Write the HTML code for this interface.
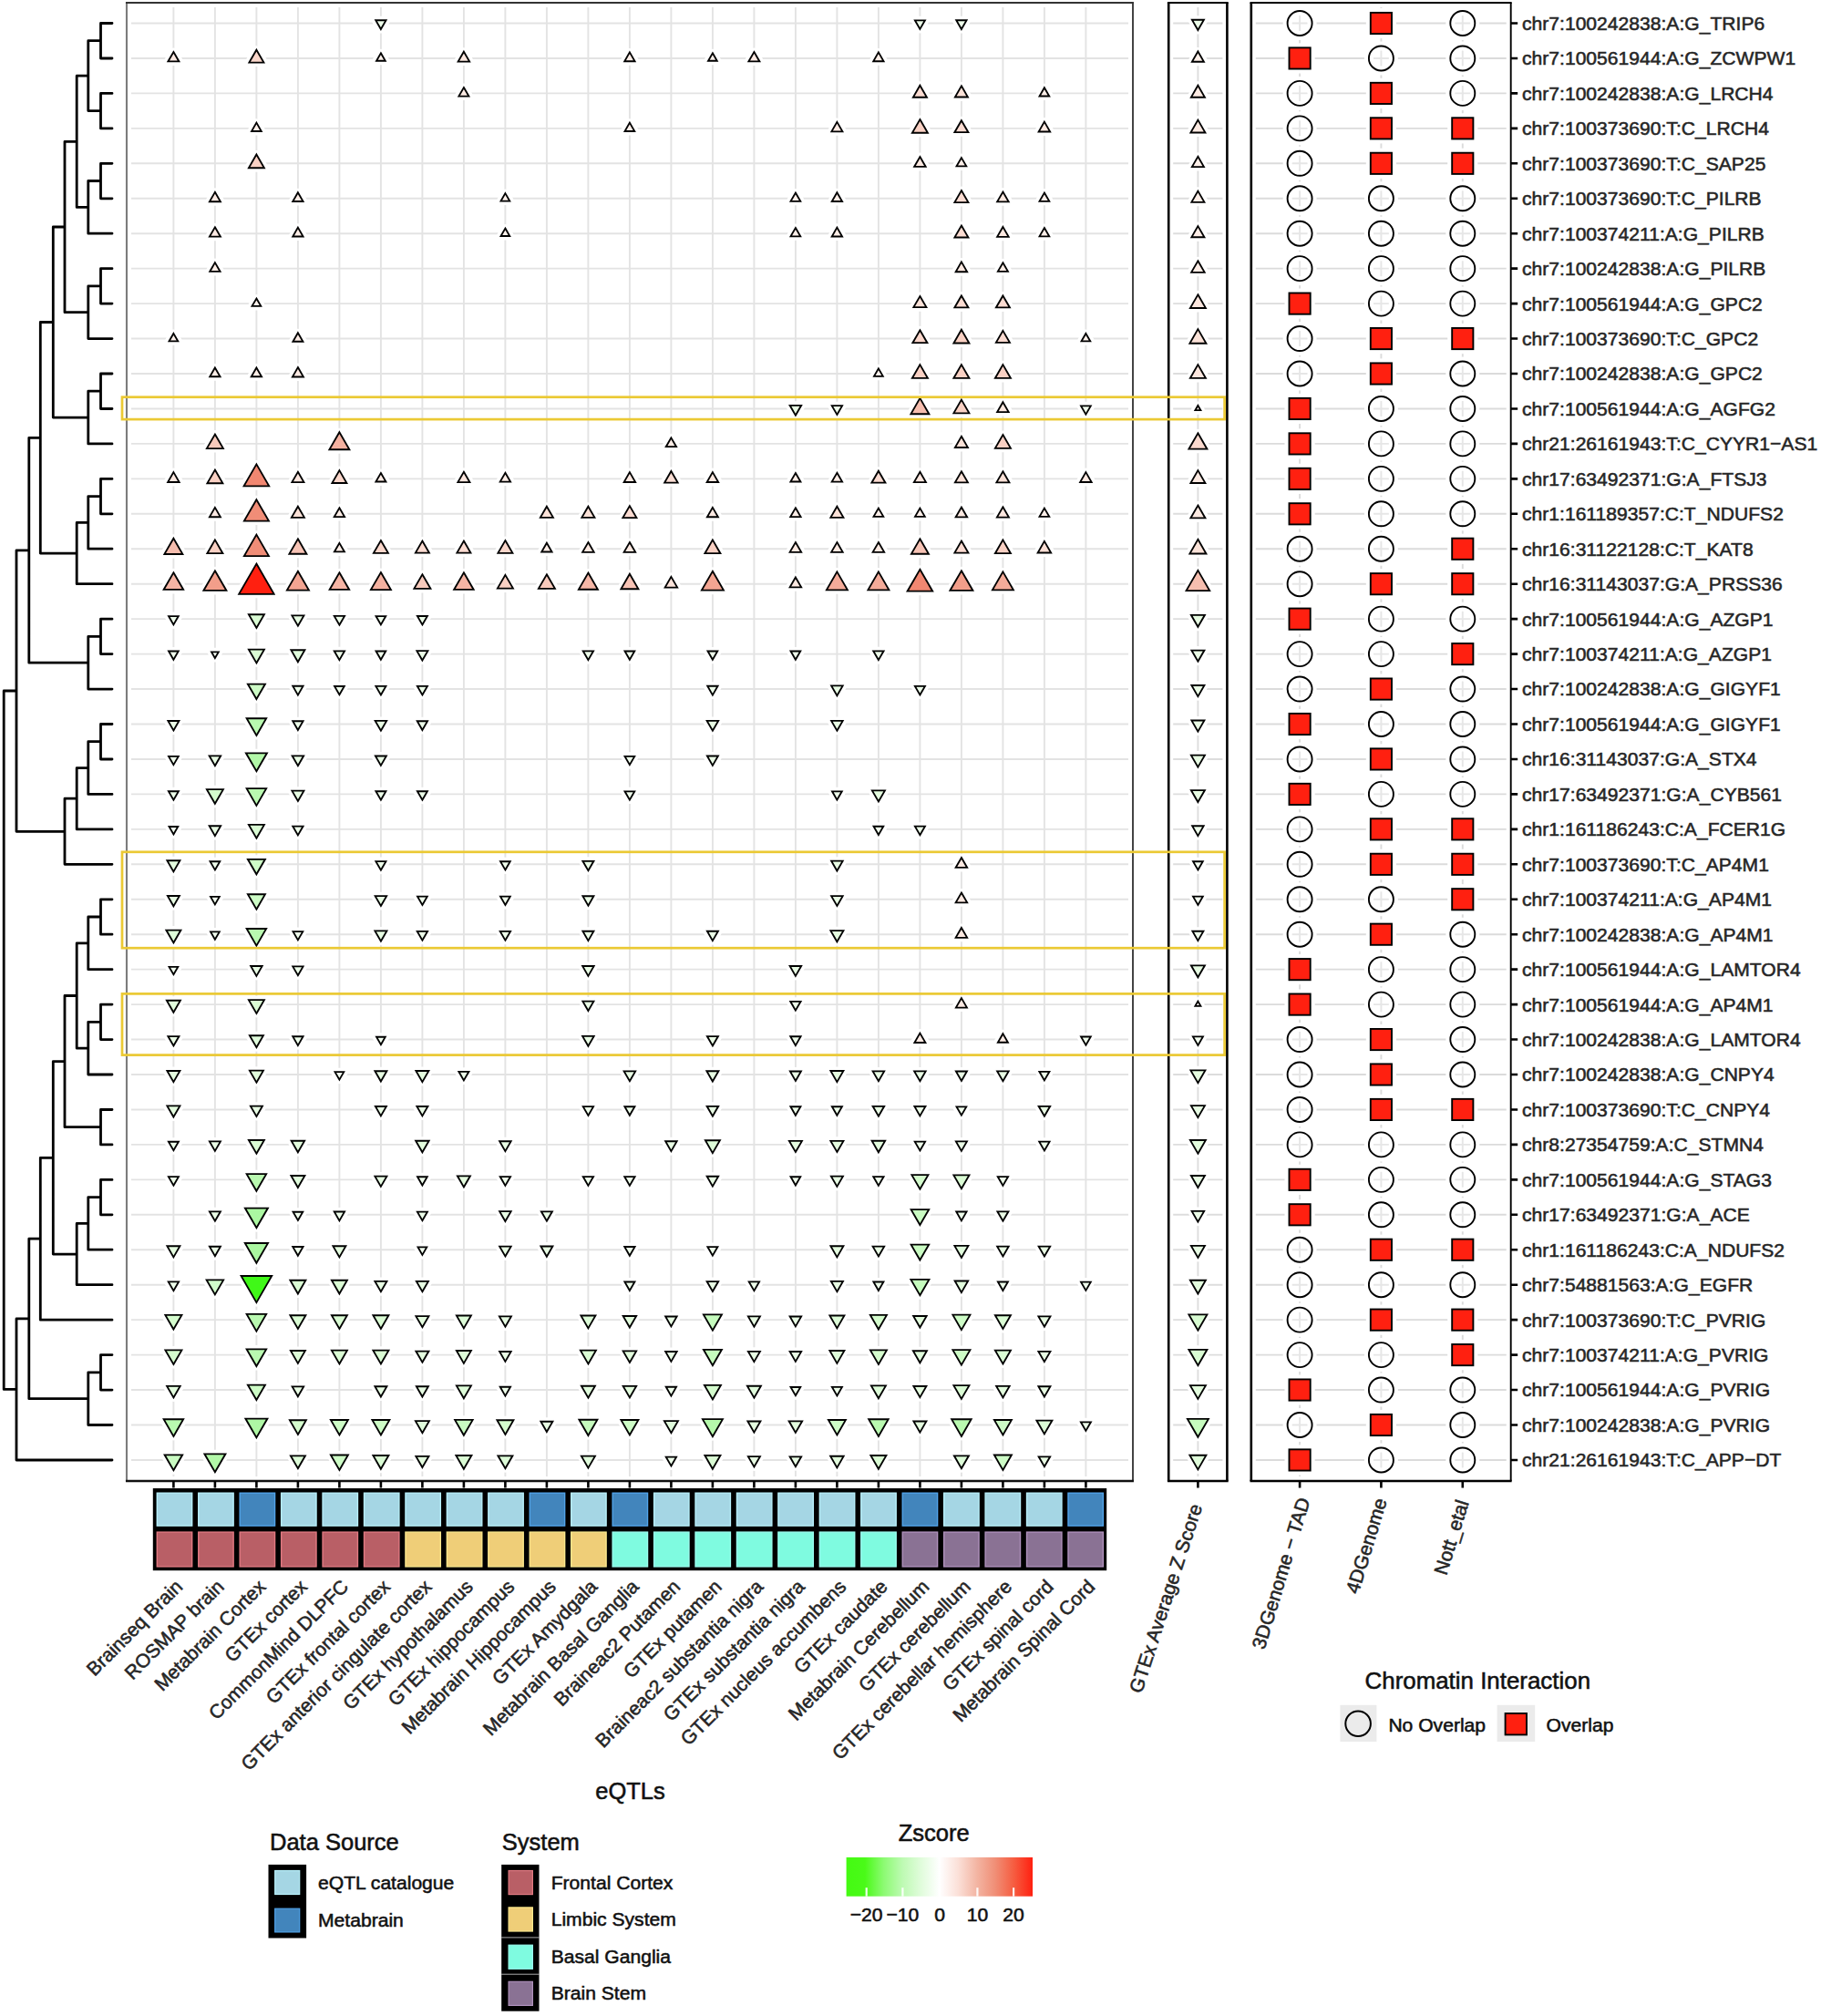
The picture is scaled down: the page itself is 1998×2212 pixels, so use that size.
<!DOCTYPE html>
<html><head><meta charset="utf-8"><title>eQTL heatmap</title>
<style>html,body{margin:0;padding:0;background:#fff}svg{display:block}</style></head>
<body>
<svg width="1998" height="2212" viewBox="0 0 1998 2212" font-family="'Liberation Sans', Arial, sans-serif">
<rect width="1998" height="2212" fill="#fff"/>
<path d="M18.0 758.0H4.2V1524.4H18.0M31.8 603.8H18.0V912.3H71.0M44.3 480.3H31.8V727.2H96.8M58.3 353.5H44.3V607.1H84.2M71.0 249.0H58.3V458.1H96.8M84.2 155.3H71.0V342.7H96.8M96.8 83.2H84.2V227.4H96.8M110.5 44.7H96.8V121.6H110.5M123.0 25.5H110.5V64.0H123.0M123.0 102.4H110.5V140.9H123.0M110.5 198.5H96.8V256.2H123.0M123.0 179.3H110.5V217.8H123.0M110.5 313.9H96.8V371.6H123.0M123.0 294.7H110.5V333.1H123.0M110.5 429.2H96.8V486.9H123.0M123.0 410.0H110.5V448.5H123.0M96.8 573.4H84.2V640.7H123.0M110.5 544.6H96.8V602.2H123.0M123.0 525.4H110.5V563.8H123.0M110.5 698.4H96.8V756.1H123.0M123.0 679.2H110.5V717.6H123.0M84.2 876.2H71.0V948.3H123.0M96.8 842.6H84.2V909.9H123.0M110.5 813.7H96.8V871.4H123.0M123.0 794.5H110.5V833.0H123.0M31.8 1446.9H18.0V1602.0H123.0M44.3 1359.2H31.8V1534.7H96.8M58.3 1270.3H44.3V1448.2H123.0M71.0 1164.6H58.3V1376.1H84.2M84.2 1092.5H71.0V1236.7H110.5M96.8 1034.8H84.2V1150.2H96.8M110.5 1006.0H96.8V1063.7H123.0M123.0 986.8H110.5V1025.2H123.0M110.5 1121.3H96.8V1179.0H123.0M123.0 1102.1H110.5V1140.6H123.0M123.0 1217.5H110.5V1255.9H123.0M96.8 1342.4H84.2V1409.7H123.0M110.5 1313.6H96.8V1371.2H123.0M123.0 1294.4H110.5V1332.8H123.0M110.5 1505.8H96.8V1563.5H123.0M123.0 1486.6H110.5V1525.1H123.0" fill="none" stroke="#000" stroke-width="2.8" stroke-linejoin="round" stroke-linecap="round"/>
<rect x="139.0" y="3.0" width="1104.0" height="1622.0" fill="#fff"/>
<path d="M144.0 25.50H1238.0M144.0 63.95H1238.0M144.0 102.40H1238.0M144.0 140.85H1238.0M144.0 179.30H1238.0M144.0 217.75H1238.0M144.0 256.20H1238.0M144.0 294.65H1238.0M144.0 333.10H1238.0M144.0 371.55H1238.0M144.0 410.00H1238.0M144.0 448.45H1238.0M144.0 486.90H1238.0M144.0 525.35H1238.0M144.0 563.80H1238.0M144.0 602.25H1238.0M144.0 640.70H1238.0M144.0 679.15H1238.0M144.0 717.60H1238.0M144.0 756.05H1238.0M144.0 794.50H1238.0M144.0 832.95H1238.0M144.0 871.40H1238.0M144.0 909.85H1238.0M144.0 948.30H1238.0M144.0 986.75H1238.0M144.0 1025.20H1238.0M144.0 1063.65H1238.0M144.0 1102.10H1238.0M144.0 1140.55H1238.0M144.0 1179.00H1238.0M144.0 1217.45H1238.0M144.0 1255.90H1238.0M144.0 1294.35H1238.0M144.0 1332.80H1238.0M144.0 1371.25H1238.0M144.0 1409.70H1238.0M144.0 1448.15H1238.0M144.0 1486.60H1238.0M144.0 1525.05H1238.0M144.0 1563.50H1238.0M144.0 1601.95H1238.0M190.40 8.0V1620.0M235.90 8.0V1620.0M281.40 8.0V1620.0M326.90 8.0V1620.0M372.40 8.0V1620.0M417.90 8.0V1620.0M463.40 8.0V1620.0M508.90 8.0V1620.0M554.40 8.0V1620.0M599.90 8.0V1620.0M645.40 8.0V1620.0M690.90 8.0V1620.0M736.40 8.0V1620.0M781.90 8.0V1620.0M827.40 8.0V1620.0M872.90 8.0V1620.0M918.40 8.0V1620.0M963.90 8.0V1620.0M1009.40 8.0V1620.0M1054.90 8.0V1620.0M1100.40 8.0V1620.0M1145.90 8.0V1620.0M1191.40 8.0V1620.0" stroke="#e3e3e3" stroke-width="1.9" fill="none"/>
<rect x="1282.2" y="3.0" width="64.20000000000005" height="1622.0" fill="#fff"/>
<path d="M1287.2 25.50H1341.4M1287.2 63.95H1341.4M1287.2 102.40H1341.4M1287.2 140.85H1341.4M1287.2 179.30H1341.4M1287.2 217.75H1341.4M1287.2 256.20H1341.4M1287.2 294.65H1341.4M1287.2 333.10H1341.4M1287.2 371.55H1341.4M1287.2 410.00H1341.4M1287.2 448.45H1341.4M1287.2 486.90H1341.4M1287.2 525.35H1341.4M1287.2 563.80H1341.4M1287.2 602.25H1341.4M1287.2 640.70H1341.4M1287.2 679.15H1341.4M1287.2 717.60H1341.4M1287.2 756.05H1341.4M1287.2 794.50H1341.4M1287.2 832.95H1341.4M1287.2 871.40H1341.4M1287.2 909.85H1341.4M1287.2 948.30H1341.4M1287.2 986.75H1341.4M1287.2 1025.20H1341.4M1287.2 1063.65H1341.4M1287.2 1102.10H1341.4M1287.2 1140.55H1341.4M1287.2 1179.00H1341.4M1287.2 1217.45H1341.4M1287.2 1255.90H1341.4M1287.2 1294.35H1341.4M1287.2 1332.80H1341.4M1287.2 1371.25H1341.4M1287.2 1409.70H1341.4M1287.2 1448.15H1341.4M1287.2 1486.60H1341.4M1287.2 1525.05H1341.4M1287.2 1563.50H1341.4M1287.2 1601.95H1341.4M1314.40 8.0V1620.0" stroke="#dddddd" stroke-width="1.9" fill="none"/>
<rect x="1372.8" y="3.0" width="284.9000000000001" height="1622.0" fill="#fff"/>
<path d="M1377.8 25.50H1652.7M1377.8 63.95H1652.7M1377.8 102.40H1652.7M1377.8 140.85H1652.7M1377.8 179.30H1652.7M1377.8 217.75H1652.7M1377.8 256.20H1652.7M1377.8 294.65H1652.7M1377.8 333.10H1652.7M1377.8 371.55H1652.7M1377.8 410.00H1652.7M1377.8 448.45H1652.7M1377.8 486.90H1652.7M1377.8 525.35H1652.7M1377.8 563.80H1652.7M1377.8 602.25H1652.7M1377.8 640.70H1652.7M1377.8 679.15H1652.7M1377.8 717.60H1652.7M1377.8 756.05H1652.7M1377.8 794.50H1652.7M1377.8 832.95H1652.7M1377.8 871.40H1652.7M1377.8 909.85H1652.7M1377.8 948.30H1652.7M1377.8 986.75H1652.7M1377.8 1025.20H1652.7M1377.8 1063.65H1652.7M1377.8 1102.10H1652.7M1377.8 1140.55H1652.7M1377.8 1179.00H1652.7M1377.8 1217.45H1652.7M1377.8 1255.90H1652.7M1377.8 1294.35H1652.7M1377.8 1332.80H1652.7M1377.8 1371.25H1652.7M1377.8 1409.70H1652.7M1377.8 1448.15H1652.7M1377.8 1486.60H1652.7M1377.8 1525.05H1652.7M1377.8 1563.50H1652.7M1377.8 1601.95H1652.7M1426.10 8.0V1620.0M1515.40 8.0V1620.0M1604.80 8.0V1620.0" stroke="#dbdbdb" stroke-width="1.9" fill="none"/>
<g fill="#fff" stroke="#fff" stroke-width="9" stroke-linejoin="round"><polygon points="417.90,32.05 423.57,22.23 412.23,22.23"/><polygon points="1009.40,31.87 1014.92,22.31 1003.88,22.31"/><polygon points="1054.90,32.05 1060.57,22.23 1049.23,22.23"/><polygon points="1314.40,33.03 1320.92,21.74 1307.88,21.74"/><polygon points="190.40,57.00 196.42,67.43 184.38,67.43"/><polygon points="281.40,54.69 289.42,68.58 273.38,68.58"/><polygon points="417.90,58.33 422.77,66.76 413.03,66.76"/><polygon points="508.90,56.71 515.17,67.57 502.63,67.57"/><polygon points="690.90,57.40 696.57,67.22 685.23,67.22"/><polygon points="781.90,58.33 786.77,66.76 777.03,66.76"/><polygon points="827.40,57.00 833.42,67.43 821.38,67.43"/><polygon points="963.90,57.40 969.57,67.22 958.23,67.22"/><polygon points="1314.40,56.42 1320.92,67.71 1307.88,67.71"/><polygon points="508.90,96.03 514.42,105.59 503.38,105.59"/><polygon points="1009.40,93.72 1016.92,106.74 1001.88,106.74"/><polygon points="1054.90,94.29 1061.92,106.45 1047.88,106.45"/><polygon points="1145.90,96.20 1151.27,105.50 1140.53,105.50"/><polygon points="1314.40,93.72 1321.92,106.74 1306.88,106.74"/><polygon points="281.40,134.65 286.77,143.95 276.03,143.95"/><polygon points="690.90,134.65 696.27,143.95 685.53,143.95"/><polygon points="918.40,133.90 924.42,144.33 912.38,144.33"/><polygon points="1009.40,131.01 1017.92,145.77 1000.88,145.77"/><polygon points="1054.90,132.17 1062.42,145.19 1047.38,145.19"/><polygon points="1145.90,133.61 1152.17,144.47 1139.63,144.47"/><polygon points="1314.40,131.59 1322.42,145.48 1306.38,145.48"/><polygon points="281.40,169.46 289.92,184.22 272.88,184.22"/><polygon points="1009.40,172.06 1015.67,182.92 1003.13,182.92"/><polygon points="1054.90,173.10 1060.27,182.40 1049.53,182.40"/><polygon points="1314.40,171.77 1320.92,183.06 1307.88,183.06"/><polygon points="235.90,210.80 241.92,221.23 229.88,221.23"/><polygon points="326.90,211.20 332.57,221.02 321.23,221.02"/><polygon points="554.40,212.13 559.27,220.56 549.53,220.56"/><polygon points="872.90,211.55 878.27,220.85 867.53,220.85"/><polygon points="918.40,211.20 924.07,221.02 912.73,221.02"/><polygon points="1054.90,209.07 1062.42,222.09 1047.38,222.09"/><polygon points="1100.40,210.51 1106.67,221.37 1094.13,221.37"/><polygon points="1145.90,211.55 1151.27,220.85 1140.53,220.85"/><polygon points="1314.40,209.64 1321.42,221.80 1307.38,221.80"/><polygon points="235.90,249.25 241.92,259.68 229.88,259.68"/><polygon points="326.90,249.65 332.57,259.47 321.23,259.47"/><polygon points="554.40,250.58 559.27,259.01 549.53,259.01"/><polygon points="872.90,250.00 878.27,259.30 867.53,259.30"/><polygon points="918.40,249.65 924.07,259.47 912.73,259.47"/><polygon points="1054.90,247.52 1062.42,260.54 1047.38,260.54"/><polygon points="1100.40,248.96 1106.67,259.82 1094.13,259.82"/><polygon points="1145.90,250.00 1151.27,259.30 1140.53,259.30"/><polygon points="1314.40,248.09 1321.42,260.25 1307.38,260.25"/><polygon points="235.90,288.10 241.57,297.92 230.23,297.92"/><polygon points="1054.90,287.41 1061.17,298.27 1048.63,298.27"/><polygon points="1100.40,288.28 1105.92,297.84 1094.88,297.84"/><polygon points="1314.40,286.26 1321.67,298.85 1307.13,298.85"/><polygon points="281.40,327.48 286.27,335.91 276.53,335.91"/><polygon points="1009.40,324.99 1016.42,337.15 1002.38,337.15"/><polygon points="1054.90,324.42 1062.42,337.44 1047.38,337.44"/><polygon points="1100.40,324.42 1107.92,337.44 1092.88,337.44"/><polygon points="1314.40,323.26 1322.92,338.02 1305.88,338.02"/><polygon points="190.40,365.93 195.27,374.36 185.53,374.36"/><polygon points="326.90,365.18 332.42,374.74 321.38,374.74"/><polygon points="1009.40,362.29 1017.42,376.18 1001.38,376.18"/><polygon points="1054.90,361.71 1063.42,376.47 1046.38,376.47"/><polygon points="1100.40,362.87 1107.92,375.89 1092.88,375.89"/><polygon points="1191.40,365.93 1196.27,374.36 1186.53,374.36"/><polygon points="1314.40,361.13 1323.42,376.76 1305.38,376.76"/><polygon points="235.90,403.45 241.57,413.27 230.23,413.27"/><polygon points="281.40,403.45 287.07,413.27 275.73,413.27"/><polygon points="326.90,403.05 332.92,413.48 320.88,413.48"/><polygon points="963.90,404.38 968.77,412.81 959.03,412.81"/><polygon points="1009.40,400.16 1017.92,414.92 1000.88,414.92"/><polygon points="1054.90,400.16 1063.42,414.92 1046.38,414.92"/><polygon points="1100.40,400.16 1108.92,414.92 1091.88,414.92"/><polygon points="1314.40,400.16 1322.92,414.92 1305.88,414.92"/><polygon points="872.90,455.69 879.17,444.83 866.63,444.83"/><polygon points="918.40,455.00 924.07,445.18 912.73,445.18"/><polygon points="1009.40,436.88 1019.42,454.24 999.38,454.24"/><polygon points="1054.90,438.61 1063.42,453.37 1046.38,453.37"/><polygon points="1100.40,441.21 1106.67,452.07 1094.13,452.07"/><polygon points="1191.40,454.65 1196.77,445.35 1186.03,445.35"/><polygon points="1314.40,444.96 1317.42,450.19 1311.38,450.19"/><polygon points="235.90,476.48 244.92,492.11 226.88,492.11"/><polygon points="372.40,474.18 383.42,493.26 361.38,493.26"/><polygon points="736.40,480.35 742.07,490.17 730.73,490.17"/><polygon points="1054.90,478.79 1061.92,490.95 1047.88,490.95"/><polygon points="1100.40,477.06 1108.92,491.82 1091.88,491.82"/><polygon points="1314.40,475.33 1324.42,492.69 1304.38,492.69"/><polygon points="190.40,518.11 196.67,528.97 184.13,528.97"/><polygon points="235.90,515.51 244.42,530.27 227.38,530.27"/><polygon points="281.40,509.39 295.22,533.33 267.58,533.33"/><polygon points="326.90,517.82 333.42,529.11 320.38,529.11"/><polygon points="372.40,516.09 380.42,529.98 364.38,529.98"/><polygon points="417.90,518.98 423.42,528.54 412.38,528.54"/><polygon points="508.90,517.82 515.42,529.11 502.38,529.11"/><polygon points="554.40,518.80 560.07,528.62 548.73,528.62"/><polygon points="690.90,518.11 697.17,528.97 684.63,528.97"/><polygon points="736.40,516.96 743.67,529.55 729.13,529.55"/><polygon points="781.90,518.11 788.17,528.97 775.63,528.97"/><polygon points="872.90,518.98 878.42,528.54 867.38,528.54"/><polygon points="918.40,518.80 924.07,528.62 912.73,528.62"/><polygon points="963.90,516.67 971.42,529.69 956.38,529.69"/><polygon points="1009.40,517.82 1015.92,529.11 1002.88,529.11"/><polygon points="1054.90,517.24 1061.92,529.40 1047.88,529.40"/><polygon points="1100.40,517.24 1107.42,529.40 1093.38,529.40"/><polygon points="1191.40,518.11 1197.67,528.97 1185.13,528.97"/><polygon points="1314.40,516.09 1322.42,529.98 1306.38,529.98"/><polygon points="235.90,556.85 241.92,567.28 229.88,567.28"/><polygon points="281.40,548.19 294.92,571.61 267.88,571.61"/><polygon points="326.90,555.69 333.92,567.85 319.88,567.85"/><polygon points="372.40,557.25 378.07,567.07 366.73,567.07"/><polygon points="599.90,555.69 606.92,567.85 592.88,567.85"/><polygon points="645.40,555.69 652.42,567.85 638.38,567.85"/><polygon points="690.90,555.12 698.42,568.14 683.38,568.14"/><polygon points="781.90,556.85 787.92,567.28 775.88,567.28"/><polygon points="872.90,557.25 878.57,567.07 867.23,567.07"/><polygon points="918.40,555.69 925.42,567.85 911.38,567.85"/><polygon points="963.90,557.60 969.27,566.90 958.53,566.90"/><polygon points="1009.40,557.60 1014.77,566.90 1004.03,566.90"/><polygon points="1054.90,556.56 1061.17,567.42 1048.63,567.42"/><polygon points="1100.40,556.27 1106.92,567.56 1093.88,567.56"/><polygon points="1145.90,557.60 1151.27,566.90 1140.53,566.90"/><polygon points="1314.40,554.54 1322.42,568.43 1306.38,568.43"/><polygon points="190.40,590.68 200.42,608.04 180.38,608.04"/><polygon points="235.90,592.41 244.42,607.17 227.38,607.17"/><polygon points="281.40,586.64 294.92,610.06 267.88,610.06"/><polygon points="326.90,591.26 336.42,607.75 317.38,607.75"/><polygon points="372.40,595.88 377.92,605.44 366.88,605.44"/><polygon points="417.90,592.99 425.92,606.88 409.88,606.88"/><polygon points="463.40,593.57 470.92,606.59 455.88,606.59"/><polygon points="508.90,593.57 516.42,606.59 501.38,606.59"/><polygon points="554.40,592.99 562.42,606.88 546.38,606.88"/><polygon points="599.90,595.70 605.57,605.52 594.23,605.52"/><polygon points="645.40,595.01 651.67,605.87 639.13,605.87"/><polygon points="690.90,595.01 697.17,605.87 684.63,605.87"/><polygon points="781.90,592.41 790.42,607.17 773.38,607.17"/><polygon points="872.90,595.01 879.17,605.87 866.63,605.87"/><polygon points="918.40,595.01 924.67,605.87 912.13,605.87"/><polygon points="963.90,595.01 970.17,605.87 957.63,605.87"/><polygon points="1009.40,591.26 1018.92,607.75 999.88,607.75"/><polygon points="1054.90,593.57 1062.42,606.59 1047.38,606.59"/><polygon points="1100.40,592.41 1108.92,607.17 1091.88,607.17"/><polygon points="1145.90,593.86 1153.17,606.45 1138.63,606.45"/><polygon points="1314.40,591.83 1323.42,607.46 1305.38,607.46"/><polygon points="190.40,628.26 201.17,646.92 179.63,646.92"/><polygon points="235.90,626.24 248.42,647.93 223.38,647.93"/><polygon points="281.40,618.51 300.62,651.80 262.18,651.80"/><polygon points="326.90,626.82 338.92,647.64 314.88,647.64"/><polygon points="372.40,628.26 383.17,646.92 361.63,646.92"/><polygon points="417.90,627.98 428.92,647.06 406.88,647.06"/><polygon points="463.40,630.28 472.42,645.91 454.38,645.91"/><polygon points="508.90,628.26 519.67,646.92 498.13,646.92"/><polygon points="554.40,630.86 562.92,645.62 545.88,645.62"/><polygon points="599.90,630.28 608.92,645.91 590.88,645.91"/><polygon points="645.40,628.55 655.92,646.77 634.88,646.77"/><polygon points="690.90,629.71 700.42,646.20 681.38,646.20"/><polygon points="736.40,632.88 743.17,644.61 729.63,644.61"/><polygon points="781.90,626.82 793.92,647.64 769.88,647.64"/><polygon points="872.90,633.46 879.17,644.32 866.63,644.32"/><polygon points="918.40,627.40 929.92,647.35 906.88,647.35"/><polygon points="963.90,627.40 975.42,647.35 952.38,647.35"/><polygon points="1009.40,624.74 1023.22,648.68 995.58,648.68"/><polygon points="1054.90,626.24 1067.42,647.93 1042.38,647.93"/><polygon points="1100.40,627.40 1111.92,647.35 1088.88,647.35"/><polygon points="1314.40,625.90 1327.22,648.10 1301.58,648.10"/><polygon points="190.40,685.35 195.77,676.05 185.03,676.05"/><polygon points="281.40,688.99 289.92,674.23 272.88,674.23"/><polygon points="326.90,686.68 333.42,675.39 320.38,675.39"/><polygon points="372.40,685.70 378.07,675.88 366.73,675.88"/><polygon points="417.90,685.35 423.27,676.05 412.53,676.05"/><polygon points="463.40,685.52 468.92,675.96 457.88,675.96"/><polygon points="1314.40,687.83 1321.92,674.81 1306.88,674.81"/><polygon points="190.40,723.80 195.77,714.50 185.03,714.50"/><polygon points="235.90,722.07 239.77,715.37 232.03,715.37"/><polygon points="281.40,727.44 289.92,712.68 272.88,712.68"/><polygon points="326.90,726.28 334.42,713.26 319.38,713.26"/><polygon points="372.40,724.15 378.07,714.33 366.73,714.33"/><polygon points="417.90,723.80 423.27,714.50 412.53,714.50"/><polygon points="463.40,724.55 469.42,714.12 457.38,714.12"/><polygon points="645.40,724.15 651.07,714.33 639.73,714.33"/><polygon points="690.90,723.80 696.27,714.50 685.53,714.50"/><polygon points="781.90,723.80 787.27,714.50 776.53,714.50"/><polygon points="872.90,723.80 878.27,714.50 867.53,714.50"/><polygon points="963.90,724.15 969.57,714.33 958.23,714.33"/><polygon points="1314.40,725.71 1321.42,713.55 1307.38,713.55"/><polygon points="281.40,767.04 290.92,750.55 271.88,750.55"/><polygon points="326.90,762.60 332.57,752.78 321.23,752.78"/><polygon points="372.40,762.25 377.77,752.95 367.03,752.95"/><polygon points="417.90,762.42 423.42,752.86 412.38,752.86"/><polygon points="463.40,762.42 468.92,752.86 457.88,752.86"/><polygon points="781.90,762.60 787.57,752.78 776.23,752.78"/><polygon points="918.40,763.29 924.67,752.43 912.13,752.43"/><polygon points="1009.40,762.42 1014.92,752.86 1003.88,752.86"/><polygon points="1314.40,764.16 1321.42,752.00 1307.38,752.00"/><polygon points="190.40,801.45 196.42,791.02 184.38,791.02"/><polygon points="281.40,806.94 292.17,788.28 270.63,788.28"/><polygon points="326.90,801.05 332.57,791.23 321.23,791.23"/><polygon points="417.90,801.74 424.17,790.88 411.63,790.88"/><polygon points="463.40,801.05 469.07,791.23 457.73,791.23"/><polygon points="781.90,801.74 788.17,790.88 775.63,790.88"/><polygon points="918.40,801.74 924.67,790.88 912.13,790.88"/><polygon points="1314.40,802.61 1321.42,790.45 1307.38,790.45"/><polygon points="190.40,839.15 195.77,829.85 185.03,829.85"/><polygon points="235.90,840.19 242.17,829.33 229.63,829.33"/><polygon points="281.40,846.25 292.92,826.30 269.88,826.30"/><polygon points="326.90,840.19 333.17,829.33 320.63,829.33"/><polygon points="417.90,839.90 423.92,829.47 411.88,829.47"/><polygon points="690.90,839.15 696.27,829.85 685.53,829.85"/><polygon points="781.90,839.90 787.92,829.47 775.88,829.47"/><polygon points="1314.40,841.63 1321.92,828.61 1306.88,828.61"/><polygon points="190.40,877.77 195.92,868.21 184.88,868.21"/><polygon points="235.90,881.82 244.92,866.19 226.88,866.19"/><polygon points="281.40,883.84 292.17,865.18 270.63,865.18"/><polygon points="326.90,878.93 333.42,867.64 320.38,867.64"/><polygon points="417.90,877.77 423.42,868.21 412.38,868.21"/><polygon points="463.40,877.77 468.92,868.21 457.88,868.21"/><polygon points="690.90,877.60 696.27,868.30 685.53,868.30"/><polygon points="918.40,877.60 923.77,868.30 913.03,868.30"/><polygon points="963.90,879.51 970.92,867.35 956.88,867.35"/><polygon points="1314.40,880.08 1321.92,867.06 1306.88,867.06"/><polygon points="190.40,915.47 195.27,907.04 185.53,907.04"/><polygon points="235.90,917.09 242.17,906.23 229.63,906.23"/><polygon points="281.40,919.69 289.92,904.93 272.88,904.93"/><polygon points="326.90,916.40 332.57,906.58 321.23,906.58"/><polygon points="963.90,916.05 969.27,906.75 958.53,906.75"/><polygon points="1009.40,916.22 1014.92,906.66 1003.88,906.66"/><polygon points="1314.40,917.09 1320.67,906.23 1308.13,906.23"/><polygon points="190.40,956.41 197.42,944.25 183.38,944.25"/><polygon points="235.90,954.50 241.27,945.20 230.53,945.20"/><polygon points="281.40,959.29 290.92,942.80 271.88,942.80"/><polygon points="417.90,954.67 423.42,945.11 412.38,945.11"/><polygon points="554.40,954.50 559.77,945.20 549.03,945.20"/><polygon points="645.40,955.25 651.42,944.82 639.38,944.82"/><polygon points="918.40,955.54 924.67,944.68 912.13,944.68"/><polygon points="1054.90,941.06 1061.17,951.92 1048.63,951.92"/><polygon points="1314.40,954.50 1319.77,945.20 1309.03,945.20"/><polygon points="190.40,994.28 196.92,982.99 183.88,982.99"/><polygon points="235.90,992.37 240.77,983.94 231.03,983.94"/><polygon points="281.40,997.74 290.92,981.25 271.88,981.25"/><polygon points="417.90,993.99 424.17,983.13 411.63,983.13"/><polygon points="463.40,992.95 468.77,983.65 458.03,983.65"/><polygon points="554.40,992.95 559.77,983.65 549.03,983.65"/><polygon points="645.40,993.70 651.42,983.27 639.38,983.27"/><polygon points="918.40,993.99 924.67,983.13 912.13,983.13"/><polygon points="1054.90,979.51 1061.17,990.37 1048.63,990.37"/><polygon points="1314.40,992.95 1319.77,983.65 1309.03,983.65"/><polygon points="190.40,1034.46 198.42,1020.57 182.38,1020.57"/><polygon points="235.90,1030.82 240.77,1022.39 231.03,1022.39"/><polygon points="281.40,1037.64 292.17,1018.98 270.63,1018.98"/><polygon points="326.90,1031.40 332.27,1022.10 321.53,1022.10"/><polygon points="417.90,1032.73 424.42,1021.44 411.38,1021.44"/><polygon points="463.40,1031.75 469.07,1021.93 457.73,1021.93"/><polygon points="554.40,1031.75 560.07,1021.93 548.73,1021.93"/><polygon points="645.40,1032.15 651.42,1021.72 639.38,1021.72"/><polygon points="781.90,1032.15 787.92,1021.72 775.88,1021.72"/><polygon points="918.40,1033.31 925.42,1021.15 911.38,1021.15"/><polygon points="1054.90,1017.96 1061.17,1028.82 1048.63,1028.82"/><polygon points="1314.40,1032.15 1320.42,1021.72 1308.38,1021.72"/><polygon points="190.40,1069.27 195.27,1060.84 185.53,1060.84"/><polygon points="281.40,1070.89 287.67,1060.03 275.13,1060.03"/><polygon points="326.90,1070.20 332.57,1060.38 321.23,1060.38"/><polygon points="645.40,1070.89 651.67,1060.03 639.13,1060.03"/><polygon points="872.90,1070.89 879.17,1060.03 866.63,1060.03"/><polygon points="1314.40,1072.33 1321.92,1059.31 1306.88,1059.31"/><polygon points="190.40,1110.78 197.92,1097.76 182.88,1097.76"/><polygon points="281.40,1111.94 289.92,1097.18 272.88,1097.18"/><polygon points="645.40,1109.05 651.42,1098.62 639.38,1098.62"/><polygon points="872.90,1108.65 878.57,1098.83 867.23,1098.83"/><polygon points="1054.90,1095.15 1060.92,1105.58 1048.88,1105.58"/><polygon points="1314.40,1098.61 1317.42,1103.84 1311.38,1103.84"/><polygon points="190.40,1147.50 196.42,1137.07 184.38,1137.07"/><polygon points="281.40,1149.23 288.92,1136.21 273.88,1136.21"/><polygon points="326.90,1147.10 332.57,1137.28 321.23,1137.28"/><polygon points="417.90,1146.17 422.77,1137.74 413.03,1137.74"/><polygon points="645.40,1147.79 651.67,1136.93 639.13,1136.93"/><polygon points="781.90,1147.50 787.92,1137.07 775.88,1137.07"/><polygon points="872.90,1147.10 878.57,1137.28 867.23,1137.28"/><polygon points="1009.40,1133.60 1015.42,1144.03 1003.38,1144.03"/><polygon points="1100.40,1134.18 1105.92,1143.74 1094.88,1143.74"/><polygon points="1191.40,1146.75 1196.77,1137.45 1186.03,1137.45"/><polygon points="1314.40,1146.92 1319.92,1137.36 1308.88,1137.36"/><polygon points="190.40,1187.11 197.42,1174.95 183.38,1174.95"/><polygon points="281.40,1187.68 288.92,1174.66 273.88,1174.66"/><polygon points="372.40,1184.62 377.27,1176.19 367.53,1176.19"/><polygon points="417.90,1186.53 424.42,1175.24 411.38,1175.24"/><polygon points="463.40,1187.11 470.42,1174.95 456.38,1174.95"/><polygon points="508.90,1185.37 514.42,1175.81 503.38,1175.81"/><polygon points="690.90,1186.24 697.17,1175.38 684.63,1175.38"/><polygon points="781.90,1186.53 788.42,1175.24 775.38,1175.24"/><polygon points="872.90,1185.95 878.92,1175.52 866.88,1175.52"/><polygon points="918.40,1187.11 925.42,1174.95 911.38,1174.95"/><polygon points="963.90,1186.24 970.17,1175.38 957.63,1175.38"/><polygon points="1009.40,1186.24 1015.67,1175.38 1003.13,1175.38"/><polygon points="1054.90,1185.95 1060.92,1175.52 1048.88,1175.52"/><polygon points="1100.40,1186.24 1106.67,1175.38 1094.13,1175.38"/><polygon points="1145.90,1185.37 1151.42,1175.81 1140.38,1175.81"/><polygon points="1314.40,1188.26 1322.42,1174.37 1306.38,1174.37"/><polygon points="190.40,1225.56 197.42,1213.40 183.38,1213.40"/><polygon points="281.40,1224.98 287.92,1213.69 274.88,1213.69"/><polygon points="417.90,1224.40 423.92,1213.97 411.88,1213.97"/><polygon points="463.40,1224.40 469.42,1213.97 457.38,1213.97"/><polygon points="645.40,1224.00 651.07,1214.18 639.73,1214.18"/><polygon points="690.90,1223.82 696.42,1214.26 685.38,1214.26"/><polygon points="781.90,1224.69 788.17,1213.83 775.63,1213.83"/><polygon points="872.90,1223.82 878.42,1214.26 867.38,1214.26"/><polygon points="918.40,1223.82 923.92,1214.26 912.88,1214.26"/><polygon points="963.90,1224.69 970.17,1213.83 957.63,1213.83"/><polygon points="1009.40,1224.40 1015.42,1213.97 1003.38,1213.97"/><polygon points="1054.90,1223.65 1060.27,1214.35 1049.53,1214.35"/><polygon points="1145.90,1224.69 1152.17,1213.83 1139.63,1213.83"/><polygon points="1314.40,1226.13 1321.92,1213.11 1306.88,1213.11"/><polygon points="190.40,1262.27 195.92,1252.71 184.88,1252.71"/><polygon points="235.90,1262.85 241.92,1252.42 229.88,1252.42"/><polygon points="281.40,1265.74 289.92,1250.98 272.88,1250.98"/><polygon points="326.90,1264.29 334.17,1251.70 319.63,1251.70"/><polygon points="463.40,1264.29 470.67,1251.70 456.13,1251.70"/><polygon points="554.40,1263.14 560.67,1252.28 548.13,1252.28"/><polygon points="736.40,1263.14 742.67,1252.28 730.13,1252.28"/><polygon points="781.90,1265.16 789.92,1251.27 773.88,1251.27"/><polygon points="872.90,1264.01 879.92,1251.85 865.88,1251.85"/><polygon points="918.40,1264.01 925.42,1251.85 911.38,1251.85"/><polygon points="963.90,1264.29 971.17,1251.70 956.63,1251.70"/><polygon points="1009.40,1262.45 1015.07,1252.63 1003.73,1252.63"/><polygon points="1054.90,1262.85 1060.92,1252.42 1048.88,1252.42"/><polygon points="1145.90,1262.45 1151.57,1252.63 1140.23,1252.63"/><polygon points="1314.40,1265.74 1322.92,1250.98 1305.88,1250.98"/><polygon points="190.40,1300.72 195.92,1291.16 184.88,1291.16"/><polygon points="281.40,1306.79 292.17,1288.13 270.63,1288.13"/><polygon points="326.90,1303.03 334.42,1290.01 319.38,1290.01"/><polygon points="417.90,1301.88 424.42,1290.59 411.38,1290.59"/><polygon points="463.40,1300.55 468.77,1291.25 458.03,1291.25"/><polygon points="508.90,1302.46 515.92,1290.30 501.88,1290.30"/><polygon points="554.40,1300.90 560.07,1291.08 548.73,1291.08"/><polygon points="645.40,1300.90 651.07,1291.08 639.73,1291.08"/><polygon points="690.90,1300.90 696.57,1291.08 685.23,1291.08"/><polygon points="781.90,1301.59 788.17,1290.73 775.63,1290.73"/><polygon points="872.90,1300.55 878.27,1291.25 867.53,1291.25"/><polygon points="918.40,1301.88 924.92,1290.59 911.88,1290.59"/><polygon points="963.90,1300.90 969.57,1291.08 958.23,1291.08"/><polygon points="1009.40,1304.77 1018.42,1289.14 1000.38,1289.14"/><polygon points="1054.90,1304.19 1063.42,1289.43 1046.38,1289.43"/><polygon points="1100.40,1300.90 1106.07,1291.08 1094.73,1291.08"/><polygon points="1314.40,1303.03 1321.92,1290.01 1306.88,1290.01"/><polygon points="235.90,1339.75 241.92,1329.32 229.88,1329.32"/><polygon points="281.40,1347.26 293.92,1325.57 268.88,1325.57"/><polygon points="326.90,1339.00 332.27,1329.70 321.53,1329.70"/><polygon points="372.40,1339.35 378.07,1329.53 366.73,1329.53"/><polygon points="463.40,1339.17 468.92,1329.61 457.88,1329.61"/><polygon points="554.40,1340.04 560.67,1329.18 548.13,1329.18"/><polygon points="599.90,1339.75 605.92,1329.32 593.88,1329.32"/><polygon points="1009.40,1344.08 1019.17,1327.16 999.63,1327.16"/><polygon points="1054.90,1339.35 1060.57,1329.53 1049.23,1329.53"/><polygon points="1100.40,1339.75 1106.42,1329.32 1094.38,1329.32"/><polygon points="1314.40,1340.62 1321.17,1328.89 1307.63,1328.89"/><polygon points="190.40,1379.36 197.42,1367.20 183.38,1367.20"/><polygon points="235.90,1378.20 241.92,1367.77 229.88,1367.77"/><polygon points="281.40,1385.82 294.02,1363.96 268.78,1363.96"/><polygon points="326.90,1377.80 332.57,1367.98 321.23,1367.98"/><polygon points="372.40,1379.36 379.42,1367.20 365.38,1367.20"/><polygon points="463.40,1376.87 468.27,1368.44 458.53,1368.44"/><polygon points="554.40,1378.49 560.67,1367.63 548.13,1367.63"/><polygon points="599.90,1378.78 606.42,1367.49 593.38,1367.49"/><polygon points="690.90,1377.80 696.57,1367.98 685.23,1367.98"/><polygon points="781.90,1377.62 787.42,1368.06 776.38,1368.06"/><polygon points="918.40,1379.36 925.42,1367.20 911.38,1367.20"/><polygon points="963.90,1378.49 970.17,1367.63 957.63,1367.63"/><polygon points="1009.40,1382.53 1019.17,1365.61 999.63,1365.61"/><polygon points="1054.90,1379.93 1062.42,1366.91 1047.38,1366.91"/><polygon points="1100.40,1378.49 1106.67,1367.63 1094.13,1367.63"/><polygon points="1145.90,1378.49 1152.17,1367.63 1139.63,1367.63"/><polygon points="1314.40,1379.93 1321.92,1366.91 1306.88,1366.91"/><polygon points="190.40,1416.25 196.07,1406.43 184.73,1406.43"/><polygon points="235.90,1420.40 245.17,1404.35 226.63,1404.35"/><polygon points="281.40,1429.12 298.22,1399.99 264.58,1399.99"/><polygon points="326.90,1419.54 335.42,1404.78 318.38,1404.78"/><polygon points="372.40,1419.54 380.92,1404.78 363.88,1404.78"/><polygon points="417.90,1417.23 424.42,1405.94 411.38,1405.94"/><polygon points="463.40,1417.23 469.92,1405.94 456.88,1405.94"/><polygon points="690.90,1416.07 696.42,1406.51 685.38,1406.51"/><polygon points="781.90,1416.94 788.17,1406.08 775.63,1406.08"/><polygon points="827.40,1416.25 833.07,1406.43 821.73,1406.43"/><polygon points="918.40,1417.23 924.92,1405.94 911.88,1405.94"/><polygon points="963.90,1416.07 969.42,1406.51 958.38,1406.51"/><polygon points="1009.40,1421.27 1019.42,1403.91 999.38,1403.91"/><polygon points="1054.90,1418.09 1062.17,1405.50 1047.63,1405.50"/><polygon points="1100.40,1416.07 1105.92,1406.51 1094.88,1406.51"/><polygon points="1191.40,1415.90 1196.77,1406.60 1186.03,1406.60"/><polygon points="1314.40,1419.54 1322.92,1404.78 1305.88,1404.78"/><polygon points="190.40,1458.57 199.42,1442.94 181.38,1442.94"/><polygon points="281.40,1460.59 292.17,1441.93 270.63,1441.93"/><polygon points="326.90,1457.99 335.42,1443.23 318.38,1443.23"/><polygon points="372.40,1457.99 380.92,1443.23 363.88,1443.23"/><polygon points="417.90,1457.99 426.42,1443.23 409.38,1443.23"/><polygon points="463.40,1456.26 470.42,1444.10 456.38,1444.10"/><polygon points="508.90,1457.41 516.92,1443.52 500.88,1443.52"/><polygon points="554.40,1455.68 560.92,1444.39 547.88,1444.39"/><polygon points="645.40,1457.41 653.42,1443.52 637.38,1443.52"/><polygon points="690.90,1456.54 698.17,1443.95 683.63,1443.95"/><polygon points="736.40,1455.39 742.67,1444.53 730.13,1444.53"/><polygon points="781.90,1459.72 791.92,1442.36 771.88,1442.36"/><polygon points="827.40,1455.68 833.92,1444.39 820.88,1444.39"/><polygon points="872.90,1455.39 879.17,1444.53 866.63,1444.53"/><polygon points="918.40,1457.41 926.42,1443.52 910.38,1443.52"/><polygon points="963.90,1458.57 972.92,1442.94 954.88,1442.94"/><polygon points="1009.40,1456.54 1016.67,1443.95 1002.13,1443.95"/><polygon points="1054.90,1459.14 1064.42,1442.65 1045.38,1442.65"/><polygon points="1100.40,1457.99 1108.92,1443.23 1091.88,1443.23"/><polygon points="1145.90,1455.68 1152.42,1444.39 1139.38,1444.39"/><polygon points="1314.40,1459.72 1324.42,1442.36 1304.38,1442.36"/><polygon points="190.40,1497.02 199.42,1481.39 181.38,1481.39"/><polygon points="281.40,1499.04 292.17,1480.38 270.63,1480.38"/><polygon points="326.90,1495.86 334.92,1481.97 318.88,1481.97"/><polygon points="372.40,1496.44 380.92,1481.68 363.88,1481.68"/><polygon points="417.90,1496.44 426.42,1481.68 409.38,1481.68"/><polygon points="463.40,1494.71 470.42,1482.55 456.38,1482.55"/><polygon points="508.90,1495.86 516.92,1481.97 500.88,1481.97"/><polygon points="554.40,1493.84 560.67,1482.98 548.13,1482.98"/><polygon points="645.40,1496.44 653.92,1481.68 636.88,1481.68"/><polygon points="690.90,1494.99 698.17,1482.40 683.63,1482.40"/><polygon points="736.40,1493.84 742.67,1482.98 730.13,1482.98"/><polygon points="781.90,1498.17 791.92,1480.81 771.88,1480.81"/><polygon points="827.40,1494.13 833.92,1482.84 820.88,1482.84"/><polygon points="872.90,1493.84 879.17,1482.98 866.63,1482.98"/><polygon points="918.40,1495.86 926.42,1481.97 910.38,1481.97"/><polygon points="963.90,1497.02 972.92,1481.39 954.88,1481.39"/><polygon points="1009.40,1495.28 1016.92,1482.26 1001.88,1482.26"/><polygon points="1054.90,1497.59 1064.42,1481.10 1045.38,1481.10"/><polygon points="1100.40,1496.44 1108.92,1481.68 1091.88,1481.68"/><polygon points="1145.90,1494.13 1152.42,1482.84 1139.38,1482.84"/><polygon points="1314.40,1498.17 1324.42,1480.81 1304.38,1480.81"/><polygon points="190.40,1533.44 197.67,1520.85 183.13,1520.85"/><polygon points="281.40,1536.04 290.92,1519.55 271.88,1519.55"/><polygon points="326.90,1532.29 333.17,1521.43 320.63,1521.43"/><polygon points="417.90,1532.58 424.42,1521.29 411.38,1521.29"/><polygon points="463.40,1532.58 469.92,1521.29 456.88,1521.29"/><polygon points="508.90,1534.31 516.92,1520.42 500.88,1520.42"/><polygon points="554.40,1531.60 560.07,1521.78 548.73,1521.78"/><polygon points="645.40,1533.73 652.92,1520.71 637.88,1520.71"/><polygon points="690.90,1533.44 698.17,1520.85 683.63,1520.85"/><polygon points="736.40,1531.60 742.07,1521.78 730.73,1521.78"/><polygon points="781.90,1535.47 790.92,1519.84 772.88,1519.84"/><polygon points="827.40,1533.73 834.92,1520.71 819.88,1520.71"/><polygon points="872.90,1531.25 878.27,1521.95 867.53,1521.95"/><polygon points="918.40,1531.42 923.92,1521.86 912.88,1521.86"/><polygon points="963.90,1534.31 971.92,1520.42 955.88,1520.42"/><polygon points="1009.40,1533.16 1016.42,1521.00 1002.38,1521.00"/><polygon points="1054.90,1534.89 1063.42,1520.13 1046.38,1520.13"/><polygon points="1100.40,1533.44 1107.67,1520.85 1093.13,1520.85"/><polygon points="1145.90,1532.58 1152.42,1521.29 1139.38,1521.29"/><polygon points="1314.40,1534.89 1322.92,1520.13 1305.88,1520.13"/><polygon points="190.40,1575.94 201.17,1557.28 179.63,1557.28"/><polygon points="281.40,1577.38 293.42,1556.56 269.38,1556.56"/><polygon points="326.90,1573.92 335.92,1558.29 317.88,1558.29"/><polygon points="372.40,1574.49 381.92,1558.00 362.88,1558.00"/><polygon points="417.90,1574.49 427.42,1558.00 408.38,1558.00"/><polygon points="463.40,1572.18 470.92,1559.16 455.88,1559.16"/><polygon points="508.90,1574.78 518.67,1557.86 499.13,1557.86"/><polygon points="554.40,1573.92 563.42,1558.29 545.38,1558.29"/><polygon points="599.90,1571.03 606.42,1559.74 593.38,1559.74"/><polygon points="645.40,1575.07 655.42,1557.71 635.38,1557.71"/><polygon points="690.90,1574.49 700.42,1558.00 681.38,1558.00"/><polygon points="736.40,1572.18 743.92,1559.16 728.88,1559.16"/><polygon points="781.90,1576.22 792.92,1557.14 770.88,1557.14"/><polygon points="827.40,1571.61 834.42,1559.45 820.38,1559.45"/><polygon points="872.90,1571.89 880.17,1559.30 865.63,1559.30"/><polygon points="918.40,1574.49 927.92,1558.00 908.88,1558.00"/><polygon points="963.90,1575.94 974.67,1557.28 953.13,1557.28"/><polygon points="1009.40,1571.61 1016.42,1559.45 1002.38,1559.45"/><polygon points="1054.90,1575.94 1065.67,1557.28 1044.13,1557.28"/><polygon points="1100.40,1574.49 1109.92,1558.00 1090.88,1558.00"/><polygon points="1145.90,1573.34 1154.42,1558.58 1137.38,1558.58"/><polygon points="1191.40,1569.87 1196.92,1560.31 1185.88,1560.31"/><polygon points="1314.40,1576.80 1325.92,1556.85 1302.88,1556.85"/><polygon points="190.40,1613.23 200.17,1596.31 180.63,1596.31"/><polygon points="235.90,1615.25 247.42,1595.30 224.38,1595.30"/><polygon points="326.90,1611.21 334.92,1597.32 318.88,1597.32"/><polygon points="372.40,1612.94 381.92,1596.45 362.88,1596.45"/><polygon points="417.90,1611.79 426.42,1597.03 409.38,1597.03"/><polygon points="463.40,1610.06 470.42,1597.90 456.38,1597.90"/><polygon points="508.90,1611.79 517.42,1597.03 500.38,1597.03"/><polygon points="554.40,1611.21 562.42,1597.32 546.38,1597.32"/><polygon points="645.40,1610.63 652.92,1597.61 637.88,1597.61"/><polygon points="736.40,1608.50 742.07,1598.68 730.73,1598.68"/><polygon points="781.90,1611.79 790.42,1597.03 773.38,1597.03"/><polygon points="827.40,1609.48 833.92,1598.19 820.88,1598.19"/><polygon points="872.90,1609.19 879.17,1598.33 866.63,1598.33"/><polygon points="918.40,1610.34 925.67,1597.75 911.13,1597.75"/><polygon points="963.90,1611.79 972.42,1597.03 955.38,1597.03"/><polygon points="1054.90,1611.21 1062.92,1597.32 1046.88,1597.32"/><polygon points="1100.40,1612.94 1109.92,1596.45 1090.88,1596.45"/><polygon points="1145.90,1609.19 1152.17,1598.33 1139.63,1598.33"/><polygon points="1314.40,1612.37 1323.42,1596.74 1305.38,1596.74"/></g>
<g stroke="#000" stroke-width="1.85" stroke-linejoin="miter"><polygon points="417.90,32.05 423.57,22.23 412.23,22.23" fill="#edfdea"/><polygon points="1009.40,31.87 1014.92,22.31 1003.88,22.31" fill="#ecfde9"/><polygon points="1054.90,32.05 1060.57,22.23 1049.23,22.23" fill="#edfdea"/><polygon points="1314.40,33.03 1320.92,21.74 1307.88,21.74" fill="#ecfde9"/><polygon points="190.40,57.00 196.42,67.43 184.38,67.43" fill="#fce9e2"/><polygon points="281.40,54.69 289.42,68.58 273.38,68.58" fill="#fad6ca"/><polygon points="417.90,58.33 422.77,66.76 413.03,66.76" fill="#fdf1eb"/><polygon points="508.90,56.71 515.17,67.57 502.63,67.57" fill="#fce8e0"/><polygon points="690.90,57.40 696.57,67.22 685.23,67.22" fill="#fdede6"/><polygon points="781.90,58.33 786.77,66.76 777.03,66.76" fill="#fdf1eb"/><polygon points="827.40,57.00 833.42,67.43 821.38,67.43" fill="#fce9e2"/><polygon points="963.90,57.40 969.57,67.22 958.23,67.22" fill="#fdede6"/><polygon points="1314.40,56.42 1320.92,67.71 1307.88,67.71" fill="#fdefe8"/><polygon points="508.90,96.03 514.42,105.59 503.38,105.59" fill="#fdece5"/><polygon points="1009.40,93.72 1016.92,106.74 1001.88,106.74" fill="#fbdbd1"/><polygon points="1054.90,94.29 1061.92,106.45 1047.88,106.45" fill="#fbe1d7"/><polygon points="1145.90,96.20 1151.27,105.50 1140.53,105.50" fill="#fdeee8"/><polygon points="1314.40,93.72 1321.92,106.74 1306.88,106.74" fill="#fdebe3"/><polygon points="281.40,134.65 286.77,143.95 276.03,143.95" fill="#fdeee8"/><polygon points="690.90,134.65 696.27,143.95 685.53,143.95" fill="#fdeee8"/><polygon points="918.40,133.90 924.42,144.33 912.38,144.33" fill="#fce9e2"/><polygon points="1009.40,131.01 1017.92,145.77 1000.88,145.77" fill="#f9d0c3"/><polygon points="1054.90,132.17 1062.42,145.19 1047.38,145.19" fill="#fbdbd1"/><polygon points="1145.90,133.61 1152.17,144.47 1139.63,144.47" fill="#fce8e0"/><polygon points="1314.40,131.59 1322.42,145.48 1306.38,145.48" fill="#fce9e1"/><polygon points="281.40,169.46 289.92,184.22 272.88,184.22" fill="#f9d0c3"/><polygon points="1009.40,172.06 1015.67,182.92 1003.13,182.92" fill="#fce8e0"/><polygon points="1054.90,173.10 1060.27,182.40 1049.53,182.40" fill="#fdeee8"/><polygon points="1314.40,171.77 1320.92,183.06 1307.88,183.06" fill="#fdefe8"/><polygon points="235.90,210.80 241.92,221.23 229.88,221.23" fill="#fce9e2"/><polygon points="326.90,211.20 332.57,221.02 321.23,221.02" fill="#fdede6"/><polygon points="554.40,212.13 559.27,220.56 549.53,220.56" fill="#fdf1eb"/><polygon points="872.90,211.55 878.27,220.85 867.53,220.85" fill="#fdeee8"/><polygon points="918.40,211.20 924.07,221.02 912.73,221.02" fill="#fdede6"/><polygon points="1054.90,209.07 1062.42,222.09 1047.38,222.09" fill="#fbdbd1"/><polygon points="1100.40,210.51 1106.67,221.37 1094.13,221.37" fill="#fce8e0"/><polygon points="1145.90,211.55 1151.27,220.85 1140.53,220.85" fill="#fdeee8"/><polygon points="1314.40,209.64 1321.42,221.80 1307.38,221.80" fill="#fdede6"/><polygon points="235.90,249.25 241.92,259.68 229.88,259.68" fill="#fce9e2"/><polygon points="326.90,249.65 332.57,259.47 321.23,259.47" fill="#fdede6"/><polygon points="554.40,250.58 559.27,259.01 549.53,259.01" fill="#fdf1eb"/><polygon points="872.90,250.00 878.27,259.30 867.53,259.30" fill="#fdeee8"/><polygon points="918.40,249.65 924.07,259.47 912.73,259.47" fill="#fdede6"/><polygon points="1054.90,247.52 1062.42,260.54 1047.38,260.54" fill="#fbdbd1"/><polygon points="1100.40,248.96 1106.67,259.82 1094.13,259.82" fill="#fce8e0"/><polygon points="1145.90,250.00 1151.27,259.30 1140.53,259.30" fill="#fdeee8"/><polygon points="1314.40,248.09 1321.42,260.25 1307.38,260.25" fill="#fdede6"/><polygon points="235.90,288.10 241.57,297.92 230.23,297.92" fill="#fdede6"/><polygon points="1054.90,287.41 1061.17,298.27 1048.63,298.27" fill="#fce8e0"/><polygon points="1100.40,288.28 1105.92,297.84 1094.88,297.84" fill="#fdece5"/><polygon points="1314.40,286.26 1321.67,298.85 1307.13,298.85" fill="#fdece5"/><polygon points="281.40,327.48 286.27,335.91 276.53,335.91" fill="#fdf1eb"/><polygon points="1009.40,324.99 1016.42,337.15 1002.38,337.15" fill="#fbe1d7"/><polygon points="1054.90,324.42 1062.42,337.44 1047.38,337.44" fill="#fbdbd1"/><polygon points="1100.40,324.42 1107.92,337.44 1092.88,337.44" fill="#fbdbd1"/><polygon points="1314.40,323.26 1322.92,338.02 1305.88,338.02" fill="#fce6de"/><polygon points="190.40,365.93 195.27,374.36 185.53,374.36" fill="#fdf1eb"/><polygon points="326.90,365.18 332.42,374.74 321.38,374.74" fill="#fdece5"/><polygon points="1009.40,362.29 1017.42,376.18 1001.38,376.18" fill="#fad6ca"/><polygon points="1054.90,361.71 1063.42,376.47 1046.38,376.47" fill="#f9d0c3"/><polygon points="1100.40,362.87 1107.92,375.89 1092.88,375.89" fill="#fbdbd1"/><polygon points="1191.40,365.93 1196.27,374.36 1186.53,374.36" fill="#fdf1eb"/><polygon points="1314.40,361.13 1323.42,376.76 1305.38,376.76" fill="#fbe2d8"/><polygon points="235.90,403.45 241.57,413.27 230.23,413.27" fill="#fdede6"/><polygon points="281.40,403.45 287.07,413.27 275.73,413.27" fill="#fdede6"/><polygon points="326.90,403.05 332.92,413.48 320.88,413.48" fill="#fce9e2"/><polygon points="963.90,404.38 968.77,412.81 959.03,412.81" fill="#fdf1eb"/><polygon points="1009.40,400.16 1017.92,414.92 1000.88,414.92" fill="#f9d0c3"/><polygon points="1054.90,400.16 1063.42,414.92 1046.38,414.92" fill="#f9d0c3"/><polygon points="1100.40,400.16 1108.92,414.92 1091.88,414.92" fill="#f9d0c3"/><polygon points="1314.40,400.16 1322.92,414.92 1305.88,414.92" fill="#fce6de"/><polygon points="872.90,455.69 879.17,444.83 866.63,444.83" fill="#e8fce4"/><polygon points="918.40,455.00 924.07,445.18 912.73,445.18" fill="#edfdea"/><polygon points="1009.40,436.88 1019.42,454.24 999.38,454.24" fill="#f6bdae"/><polygon points="1054.90,438.61 1063.42,453.37 1046.38,453.37" fill="#f9d0c3"/><polygon points="1100.40,441.21 1106.67,452.07 1094.13,452.07" fill="#fce8e0"/><polygon points="1191.40,454.65 1196.77,445.35 1186.03,445.35" fill="#effdec"/><polygon points="1314.40,444.96 1317.42,450.19 1311.38,450.19" fill="#fef5f1"/><polygon points="235.90,476.48 244.92,492.11 226.88,492.11" fill="#f8cabc"/><polygon points="372.40,474.18 383.42,493.26 361.38,493.26" fill="#f4b1a0"/><polygon points="736.40,480.35 742.07,490.17 730.73,490.17" fill="#fdede6"/><polygon points="1054.90,478.79 1061.92,490.95 1047.88,490.95" fill="#fbe1d7"/><polygon points="1100.40,477.06 1108.92,491.82 1091.88,491.82" fill="#f9d0c3"/><polygon points="1314.40,475.33 1324.42,492.69 1304.38,492.69" fill="#fad9ce"/><polygon points="190.40,518.11 196.67,528.97 184.13,528.97" fill="#fce8e0"/><polygon points="235.90,515.51 244.42,530.27 227.38,530.27" fill="#f9d0c3"/><polygon points="281.40,509.39 295.22,533.33 267.58,533.33" fill="#f18771"/><polygon points="326.90,517.82 333.42,529.11 320.38,529.11" fill="#fce6de"/><polygon points="372.40,516.09 380.42,529.98 364.38,529.98" fill="#fad6ca"/><polygon points="417.90,518.98 423.42,528.54 412.38,528.54" fill="#fdece5"/><polygon points="508.90,517.82 515.42,529.11 502.38,529.11" fill="#fce6de"/><polygon points="554.40,518.80 560.07,528.62 548.73,528.62" fill="#fdede6"/><polygon points="690.90,518.11 697.17,528.97 684.63,528.97" fill="#fce8e0"/><polygon points="736.40,516.96 743.67,529.55 729.13,529.55" fill="#fbded4"/><polygon points="781.90,518.11 788.17,528.97 775.63,528.97" fill="#fce8e0"/><polygon points="872.90,518.98 878.42,528.54 867.38,528.54" fill="#fdece5"/><polygon points="918.40,518.80 924.07,528.62 912.73,528.62" fill="#fdede6"/><polygon points="963.90,516.67 971.42,529.69 956.38,529.69" fill="#fbdbd1"/><polygon points="1009.40,517.82 1015.92,529.11 1002.88,529.11" fill="#fce6de"/><polygon points="1054.90,517.24 1061.92,529.40 1047.88,529.40" fill="#fbe1d7"/><polygon points="1100.40,517.24 1107.42,529.40 1093.38,529.40" fill="#fbe1d7"/><polygon points="1191.40,518.11 1197.67,528.97 1185.13,528.97" fill="#fce8e0"/><polygon points="1314.40,516.09 1322.42,529.98 1306.38,529.98" fill="#fce9e1"/><polygon points="235.90,556.85 241.92,567.28 229.88,567.28" fill="#fce9e2"/><polygon points="281.40,548.19 294.92,571.61 267.88,571.61" fill="#f08d77"/><polygon points="326.90,555.69 333.92,567.85 319.88,567.85" fill="#fbe1d7"/><polygon points="372.40,557.25 378.07,567.07 366.73,567.07" fill="#fdede6"/><polygon points="599.90,555.69 606.92,567.85 592.88,567.85" fill="#fbe1d7"/><polygon points="645.40,555.69 652.42,567.85 638.38,567.85" fill="#fbe1d7"/><polygon points="690.90,555.12 698.42,568.14 683.38,568.14" fill="#fbdbd1"/><polygon points="781.90,556.85 787.92,567.28 775.88,567.28" fill="#fce9e2"/><polygon points="872.90,557.25 878.57,567.07 867.23,567.07" fill="#fdede6"/><polygon points="918.40,555.69 925.42,567.85 911.38,567.85" fill="#fbe1d7"/><polygon points="963.90,557.60 969.27,566.90 958.53,566.90" fill="#fdeee8"/><polygon points="1009.40,557.60 1014.77,566.90 1004.03,566.90" fill="#fdeee8"/><polygon points="1054.90,556.56 1061.17,567.42 1048.63,567.42" fill="#fce8e0"/><polygon points="1100.40,556.27 1106.92,567.56 1093.88,567.56" fill="#fce6de"/><polygon points="1145.90,557.60 1151.27,566.90 1140.53,566.90" fill="#fdeee8"/><polygon points="1314.40,554.54 1322.42,568.43 1306.38,568.43" fill="#fce9e1"/><polygon points="190.40,590.68 200.42,608.04 180.38,608.04" fill="#f6bdae"/><polygon points="235.90,592.41 244.42,607.17 227.38,607.17" fill="#f9d0c3"/><polygon points="281.40,586.64 294.92,610.06 267.88,610.06" fill="#f08d77"/><polygon points="326.90,591.26 336.42,607.75 317.38,607.75" fill="#f7c3b5"/><polygon points="372.40,595.88 377.92,605.44 366.88,605.44" fill="#fdece5"/><polygon points="417.90,592.99 425.92,606.88 409.88,606.88" fill="#fad6ca"/><polygon points="463.40,593.57 470.92,606.59 455.88,606.59" fill="#fbdbd1"/><polygon points="508.90,593.57 516.42,606.59 501.38,606.59" fill="#fbdbd1"/><polygon points="554.40,592.99 562.42,606.88 546.38,606.88" fill="#fad6ca"/><polygon points="599.90,595.70 605.57,605.52 594.23,605.52" fill="#fdede6"/><polygon points="645.40,595.01 651.67,605.87 639.13,605.87" fill="#fce8e0"/><polygon points="690.90,595.01 697.17,605.87 684.63,605.87" fill="#fce8e0"/><polygon points="781.90,592.41 790.42,607.17 773.38,607.17" fill="#f9d0c3"/><polygon points="872.90,595.01 879.17,605.87 866.63,605.87" fill="#fce8e0"/><polygon points="918.40,595.01 924.67,605.87 912.13,605.87" fill="#fce8e0"/><polygon points="963.90,595.01 970.17,605.87 957.63,605.87" fill="#fce8e0"/><polygon points="1009.40,591.26 1018.92,607.75 999.88,607.75" fill="#f7c3b5"/><polygon points="1054.90,593.57 1062.42,606.59 1047.38,606.59" fill="#fbdbd1"/><polygon points="1100.40,592.41 1108.92,607.17 1091.88,607.17" fill="#f9d0c3"/><polygon points="1145.90,593.86 1153.17,606.45 1138.63,606.45" fill="#fbded4"/><polygon points="1314.40,591.83 1323.42,607.46 1305.38,607.46" fill="#fbe2d8"/><polygon points="190.40,628.26 201.17,646.92 179.63,646.92" fill="#f5b4a4"/><polygon points="235.90,626.24 248.42,647.93 223.38,647.93" fill="#f29e8a"/><polygon points="281.40,618.51 300.62,651.80 262.18,651.80" fill="#ff2010"/><polygon points="326.90,626.82 338.92,647.64 314.88,647.64" fill="#f3a592"/><polygon points="372.40,628.26 383.17,646.92 361.63,646.92" fill="#f5b4a4"/><polygon points="417.90,627.98 428.92,647.06 406.88,647.06" fill="#f4b1a0"/><polygon points="463.40,630.28 472.42,645.91 454.38,645.91" fill="#f8cabc"/><polygon points="508.90,628.26 519.67,646.92 498.13,646.92" fill="#f5b4a4"/><polygon points="554.40,630.86 562.92,645.62 545.88,645.62" fill="#f9d0c3"/><polygon points="599.90,630.28 608.92,645.91 590.88,645.91" fill="#f8cabc"/><polygon points="645.40,628.55 655.92,646.77 634.88,646.77" fill="#f5b7a7"/><polygon points="690.90,629.71 700.42,646.20 681.38,646.20" fill="#f7c3b5"/><polygon points="736.40,632.88 743.17,644.61 729.63,644.61" fill="#fce3da"/><polygon points="781.90,626.82 793.92,647.64 769.88,647.64" fill="#f3a592"/><polygon points="872.90,633.46 879.17,644.32 866.63,644.32" fill="#fce8e0"/><polygon points="918.40,627.40 929.92,647.35 906.88,647.35" fill="#f4ab99"/><polygon points="963.90,627.40 975.42,647.35 952.38,647.35" fill="#f4ab99"/><polygon points="1009.40,624.74 1023.22,648.68 995.58,648.68" fill="#f18771"/><polygon points="1054.90,626.24 1067.42,647.93 1042.38,647.93" fill="#f29e8a"/><polygon points="1100.40,627.40 1111.92,647.35 1088.88,647.35" fill="#f4ab99"/><polygon points="1314.40,625.90 1327.22,648.10 1301.58,648.10" fill="#f6beaf"/><polygon points="190.40,685.35 195.77,676.05 185.03,676.05" fill="#effdec"/><polygon points="281.40,688.99 289.92,674.23 272.88,674.23" fill="#dafcd4"/><polygon points="326.90,686.68 333.42,675.39 320.38,675.39" fill="#e7fce3"/><polygon points="372.40,685.70 378.07,675.88 366.73,675.88" fill="#edfdea"/><polygon points="417.90,685.35 423.27,676.05 412.53,676.05" fill="#effdec"/><polygon points="463.40,685.52 468.92,675.96 457.88,675.96" fill="#ecfde9"/><polygon points="1314.40,687.83 1321.92,674.81 1306.88,674.81" fill="#e7fce3"/><polygon points="190.40,723.80 195.77,714.50 185.03,714.50" fill="#effdec"/><polygon points="235.90,722.07 239.77,715.37 232.03,715.37" fill="#f6fef4"/><polygon points="281.40,727.44 289.92,712.68 272.88,712.68" fill="#dafcd4"/><polygon points="326.90,726.28 334.42,713.26 319.38,713.26" fill="#e0fcdc"/><polygon points="372.40,724.15 378.07,714.33 366.73,714.33" fill="#edfdea"/><polygon points="417.90,723.80 423.27,714.50 412.53,714.50" fill="#effdec"/><polygon points="463.40,724.55 469.42,714.12 457.38,714.12" fill="#eafce6"/><polygon points="645.40,724.15 651.07,714.33 639.73,714.33" fill="#edfdea"/><polygon points="690.90,723.80 696.27,714.50 685.53,714.50" fill="#effdec"/><polygon points="781.90,723.80 787.27,714.50 776.53,714.50" fill="#effdec"/><polygon points="872.90,723.80 878.27,714.50 867.53,714.50" fill="#effdec"/><polygon points="963.90,724.15 969.57,714.33 958.23,714.33" fill="#edfdea"/><polygon points="1314.40,725.71 1321.42,713.55 1307.38,713.55" fill="#eafce6"/><polygon points="281.40,767.04 290.92,750.55 271.88,750.55" fill="#cdfcc6"/><polygon points="326.90,762.60 332.57,752.78 321.23,752.78" fill="#edfdea"/><polygon points="372.40,762.25 377.77,752.95 367.03,752.95" fill="#effdec"/><polygon points="417.90,762.42 423.42,752.86 412.38,752.86" fill="#ecfde9"/><polygon points="463.40,762.42 468.92,752.86 457.88,752.86" fill="#ecfde9"/><polygon points="781.90,762.60 787.57,752.78 776.23,752.78" fill="#edfdea"/><polygon points="918.40,763.29 924.67,752.43 912.13,752.43" fill="#e8fce4"/><polygon points="1009.40,762.42 1014.92,752.86 1003.88,752.86" fill="#ecfde9"/><polygon points="1314.40,764.16 1321.42,752.00 1307.38,752.00" fill="#eafce6"/><polygon points="190.40,801.45 196.42,791.02 184.38,791.02" fill="#eafce6"/><polygon points="281.40,806.94 292.17,788.28 270.63,788.28" fill="#b9f9b0"/><polygon points="326.90,801.05 332.57,791.23 321.23,791.23" fill="#edfdea"/><polygon points="417.90,801.74 424.17,790.88 411.63,790.88" fill="#e8fce4"/><polygon points="463.40,801.05 469.07,791.23 457.73,791.23" fill="#edfdea"/><polygon points="781.90,801.74 788.17,790.88 775.63,790.88" fill="#e8fce4"/><polygon points="918.40,801.74 924.67,790.88 912.13,790.88" fill="#e8fce4"/><polygon points="1314.40,802.61 1321.42,790.45 1307.38,790.45" fill="#eafce6"/><polygon points="190.40,839.15 195.77,829.85 185.03,829.85" fill="#effdec"/><polygon points="235.90,840.19 242.17,829.33 229.63,829.33" fill="#e8fce4"/><polygon points="281.40,846.25 292.92,826.30 269.88,826.30" fill="#b2f8a8"/><polygon points="326.90,840.19 333.17,829.33 320.63,829.33" fill="#e8fce4"/><polygon points="417.90,839.90 423.92,829.47 411.88,829.47" fill="#eafce6"/><polygon points="690.90,839.15 696.27,829.85 685.53,829.85" fill="#effdec"/><polygon points="781.90,839.90 787.92,829.47 775.88,829.47" fill="#eafce6"/><polygon points="1314.40,841.63 1321.92,828.61 1306.88,828.61" fill="#e7fce3"/><polygon points="190.40,877.77 195.92,868.21 184.88,868.21" fill="#ecfde9"/><polygon points="235.90,881.82 244.92,866.19 226.88,866.19" fill="#d4fccd"/><polygon points="281.40,883.84 292.17,865.18 270.63,865.18" fill="#b9f9b0"/><polygon points="326.90,878.93 333.42,867.64 320.38,867.64" fill="#e7fce3"/><polygon points="417.90,877.77 423.42,868.21 412.38,868.21" fill="#ecfde9"/><polygon points="463.40,877.77 468.92,868.21 457.88,868.21" fill="#ecfde9"/><polygon points="690.90,877.60 696.27,868.30 685.53,868.30" fill="#effdec"/><polygon points="918.40,877.60 923.77,868.30 913.03,868.30" fill="#effdec"/><polygon points="963.90,879.51 970.92,867.35 956.88,867.35" fill="#e4fcdf"/><polygon points="1314.40,880.08 1321.92,867.06 1306.88,867.06" fill="#e7fce3"/><polygon points="190.40,915.47 195.27,907.04 185.53,907.04" fill="#f1fdef"/><polygon points="235.90,917.09 242.17,906.23 229.63,906.23" fill="#e8fce4"/><polygon points="281.40,919.69 289.92,904.93 272.88,904.93" fill="#dafcd4"/><polygon points="326.90,916.40 332.57,906.58 321.23,906.58" fill="#edfdea"/><polygon points="963.90,916.05 969.27,906.75 958.53,906.75" fill="#effdec"/><polygon points="1009.40,916.22 1014.92,906.66 1003.88,906.66" fill="#ecfde9"/><polygon points="1314.40,917.09 1320.67,906.23 1308.13,906.23" fill="#edfdea"/><polygon points="190.40,956.41 197.42,944.25 183.38,944.25" fill="#e4fcdf"/><polygon points="235.90,954.50 241.27,945.20 230.53,945.20" fill="#effdec"/><polygon points="281.40,959.29 290.92,942.80 271.88,942.80" fill="#cdfcc6"/><polygon points="417.90,954.67 423.42,945.11 412.38,945.11" fill="#ecfde9"/><polygon points="554.40,954.50 559.77,945.20 549.03,945.20" fill="#effdec"/><polygon points="645.40,955.25 651.42,944.82 639.38,944.82" fill="#eafce6"/><polygon points="918.40,955.54 924.67,944.68 912.13,944.68" fill="#e8fce4"/><polygon points="1054.90,941.06 1061.17,951.92 1048.63,951.92" fill="#fce8e0"/><polygon points="1314.40,954.50 1319.77,945.20 1309.03,945.20" fill="#f3fef0"/><polygon points="190.40,994.28 196.92,982.99 183.88,982.99" fill="#e7fce3"/><polygon points="235.90,992.37 240.77,983.94 231.03,983.94" fill="#f1fdef"/><polygon points="281.40,997.74 290.92,981.25 271.88,981.25" fill="#cdfcc6"/><polygon points="417.90,993.99 424.17,983.13 411.63,983.13" fill="#e8fce4"/><polygon points="463.40,992.95 468.77,983.65 458.03,983.65" fill="#effdec"/><polygon points="554.40,992.95 559.77,983.65 549.03,983.65" fill="#effdec"/><polygon points="645.40,993.70 651.42,983.27 639.38,983.27" fill="#eafce6"/><polygon points="918.40,993.99 924.67,983.13 912.13,983.13" fill="#e8fce4"/><polygon points="1054.90,979.51 1061.17,990.37 1048.63,990.37" fill="#fce8e0"/><polygon points="1314.40,992.95 1319.77,983.65 1309.03,983.65" fill="#f3fef0"/><polygon points="190.40,1034.46 198.42,1020.57 182.38,1020.57" fill="#ddfcd8"/><polygon points="235.90,1030.82 240.77,1022.39 231.03,1022.39" fill="#f1fdef"/><polygon points="281.40,1037.64 292.17,1018.98 270.63,1018.98" fill="#b9f9b0"/><polygon points="326.90,1031.40 332.27,1022.10 321.53,1022.10" fill="#effdec"/><polygon points="417.90,1032.73 424.42,1021.44 411.38,1021.44" fill="#e7fce3"/><polygon points="463.40,1031.75 469.07,1021.93 457.73,1021.93" fill="#edfdea"/><polygon points="554.40,1031.75 560.07,1021.93 548.73,1021.93" fill="#edfdea"/><polygon points="645.40,1032.15 651.42,1021.72 639.38,1021.72" fill="#eafce6"/><polygon points="781.90,1032.15 787.92,1021.72 775.88,1021.72" fill="#eafce6"/><polygon points="918.40,1033.31 925.42,1021.15 911.38,1021.15" fill="#e4fcdf"/><polygon points="1054.90,1017.96 1061.17,1028.82 1048.63,1028.82" fill="#fce8e0"/><polygon points="1314.40,1032.15 1320.42,1021.72 1308.38,1021.72" fill="#eefdeb"/><polygon points="190.40,1069.27 195.27,1060.84 185.53,1060.84" fill="#f1fdef"/><polygon points="281.40,1070.89 287.67,1060.03 275.13,1060.03" fill="#e8fce4"/><polygon points="326.90,1070.20 332.57,1060.38 321.23,1060.38" fill="#edfdea"/><polygon points="645.40,1070.89 651.67,1060.03 639.13,1060.03" fill="#e8fce4"/><polygon points="872.90,1070.89 879.17,1060.03 866.63,1060.03" fill="#e8fce4"/><polygon points="1314.40,1072.33 1321.92,1059.31 1306.88,1059.31" fill="#e7fce3"/><polygon points="190.40,1110.78 197.92,1097.76 182.88,1097.76" fill="#e0fcdc"/><polygon points="281.40,1111.94 289.92,1097.18 272.88,1097.18" fill="#dafcd4"/><polygon points="645.40,1109.05 651.42,1098.62 639.38,1098.62" fill="#eafce6"/><polygon points="872.90,1108.65 878.57,1098.83 867.23,1098.83" fill="#edfdea"/><polygon points="1054.90,1095.15 1060.92,1105.58 1048.88,1105.58" fill="#fce9e2"/><polygon points="1314.40,1098.61 1317.42,1103.84 1311.38,1103.84" fill="#fef5f1"/><polygon points="190.40,1147.50 196.42,1137.07 184.38,1137.07" fill="#eafce6"/><polygon points="281.40,1149.23 288.92,1136.21 273.88,1136.21" fill="#e0fcdc"/><polygon points="326.90,1147.10 332.57,1137.28 321.23,1137.28" fill="#edfdea"/><polygon points="417.90,1146.17 422.77,1137.74 413.03,1137.74" fill="#f1fdef"/><polygon points="645.40,1147.79 651.67,1136.93 639.13,1136.93" fill="#e8fce4"/><polygon points="781.90,1147.50 787.92,1137.07 775.88,1137.07" fill="#eafce6"/><polygon points="872.90,1147.10 878.57,1137.28 867.23,1137.28" fill="#edfdea"/><polygon points="1009.40,1133.60 1015.42,1144.03 1003.38,1144.03" fill="#fce9e2"/><polygon points="1100.40,1134.18 1105.92,1143.74 1094.88,1143.74" fill="#fdece5"/><polygon points="1191.40,1146.75 1196.77,1137.45 1186.03,1137.45" fill="#effdec"/><polygon points="1314.40,1146.92 1319.92,1137.36 1308.88,1137.36" fill="#f1fdee"/><polygon points="190.40,1187.11 197.42,1174.95 183.38,1174.95" fill="#e4fcdf"/><polygon points="281.40,1187.68 288.92,1174.66 273.88,1174.66" fill="#e0fcdc"/><polygon points="372.40,1184.62 377.27,1176.19 367.53,1176.19" fill="#f1fdef"/><polygon points="417.90,1186.53 424.42,1175.24 411.38,1175.24" fill="#e7fce3"/><polygon points="463.40,1187.11 470.42,1174.95 456.38,1174.95" fill="#e4fcdf"/><polygon points="508.90,1185.37 514.42,1175.81 503.38,1175.81" fill="#ecfde9"/><polygon points="690.90,1186.24 697.17,1175.38 684.63,1175.38" fill="#e8fce4"/><polygon points="781.90,1186.53 788.42,1175.24 775.38,1175.24" fill="#e7fce3"/><polygon points="872.90,1185.95 878.92,1175.52 866.88,1175.52" fill="#eafce6"/><polygon points="918.40,1187.11 925.42,1174.95 911.38,1174.95" fill="#e4fcdf"/><polygon points="963.90,1186.24 970.17,1175.38 957.63,1175.38" fill="#e8fce4"/><polygon points="1009.40,1186.24 1015.67,1175.38 1003.13,1175.38" fill="#e8fce4"/><polygon points="1054.90,1185.95 1060.92,1175.52 1048.88,1175.52" fill="#eafce6"/><polygon points="1100.40,1186.24 1106.67,1175.38 1094.13,1175.38" fill="#e8fce4"/><polygon points="1145.90,1185.37 1151.42,1175.81 1140.38,1175.81" fill="#ecfde9"/><polygon points="1314.40,1188.26 1322.42,1174.37 1306.38,1174.37" fill="#e5fce0"/><polygon points="190.40,1225.56 197.42,1213.40 183.38,1213.40" fill="#e4fcdf"/><polygon points="281.40,1224.98 287.92,1213.69 274.88,1213.69" fill="#e7fce3"/><polygon points="417.90,1224.40 423.92,1213.97 411.88,1213.97" fill="#eafce6"/><polygon points="463.40,1224.40 469.42,1213.97 457.38,1213.97" fill="#eafce6"/><polygon points="645.40,1224.00 651.07,1214.18 639.73,1214.18" fill="#edfdea"/><polygon points="690.90,1223.82 696.42,1214.26 685.38,1214.26" fill="#ecfde9"/><polygon points="781.90,1224.69 788.17,1213.83 775.63,1213.83" fill="#e8fce4"/><polygon points="872.90,1223.82 878.42,1214.26 867.38,1214.26" fill="#ecfde9"/><polygon points="918.40,1223.82 923.92,1214.26 912.88,1214.26" fill="#ecfde9"/><polygon points="963.90,1224.69 970.17,1213.83 957.63,1213.83" fill="#e8fce4"/><polygon points="1009.40,1224.40 1015.42,1213.97 1003.38,1213.97" fill="#eafce6"/><polygon points="1054.90,1223.65 1060.27,1214.35 1049.53,1214.35" fill="#effdec"/><polygon points="1145.90,1224.69 1152.17,1213.83 1139.63,1213.83" fill="#e8fce4"/><polygon points="1314.40,1226.13 1321.92,1213.11 1306.88,1213.11" fill="#e7fce3"/><polygon points="190.40,1262.27 195.92,1252.71 184.88,1252.71" fill="#ecfde9"/><polygon points="235.90,1262.85 241.92,1252.42 229.88,1252.42" fill="#eafce6"/><polygon points="281.40,1265.74 289.92,1250.98 272.88,1250.98" fill="#dafcd4"/><polygon points="326.90,1264.29 334.17,1251.70 319.63,1251.70" fill="#e2fcdd"/><polygon points="463.40,1264.29 470.67,1251.70 456.13,1251.70" fill="#e2fcdd"/><polygon points="554.40,1263.14 560.67,1252.28 548.13,1252.28" fill="#e8fce4"/><polygon points="736.40,1263.14 742.67,1252.28 730.13,1252.28" fill="#e8fce4"/><polygon points="781.90,1265.16 789.92,1251.27 773.88,1251.27" fill="#ddfcd8"/><polygon points="872.90,1264.01 879.92,1251.85 865.88,1251.85" fill="#e4fcdf"/><polygon points="918.40,1264.01 925.42,1251.85 911.38,1251.85" fill="#e4fcdf"/><polygon points="963.90,1264.29 971.17,1251.70 956.63,1251.70" fill="#e2fcdd"/><polygon points="1009.40,1262.45 1015.07,1252.63 1003.73,1252.63" fill="#edfdea"/><polygon points="1054.90,1262.85 1060.92,1252.42 1048.88,1252.42" fill="#eafce6"/><polygon points="1145.90,1262.45 1151.57,1252.63 1140.23,1252.63" fill="#edfdea"/><polygon points="1314.40,1265.74 1322.92,1250.98 1305.88,1250.98" fill="#e2fcdd"/><polygon points="190.40,1300.72 195.92,1291.16 184.88,1291.16" fill="#ecfde9"/><polygon points="281.40,1306.79 292.17,1288.13 270.63,1288.13" fill="#b9f9b0"/><polygon points="326.90,1303.03 334.42,1290.01 319.38,1290.01" fill="#e0fcdc"/><polygon points="417.90,1301.88 424.42,1290.59 411.38,1290.59" fill="#e7fce3"/><polygon points="463.40,1300.55 468.77,1291.25 458.03,1291.25" fill="#effdec"/><polygon points="508.90,1302.46 515.92,1290.30 501.88,1290.30" fill="#e4fcdf"/><polygon points="554.40,1300.90 560.07,1291.08 548.73,1291.08" fill="#edfdea"/><polygon points="645.40,1300.90 651.07,1291.08 639.73,1291.08" fill="#edfdea"/><polygon points="690.90,1300.90 696.57,1291.08 685.23,1291.08" fill="#edfdea"/><polygon points="781.90,1301.59 788.17,1290.73 775.63,1290.73" fill="#e8fce4"/><polygon points="872.90,1300.55 878.27,1291.25 867.53,1291.25" fill="#effdec"/><polygon points="918.40,1301.88 924.92,1290.59 911.88,1290.59" fill="#e7fce3"/><polygon points="963.90,1300.90 969.57,1291.08 958.23,1291.08" fill="#edfdea"/><polygon points="1009.40,1304.77 1018.42,1289.14 1000.38,1289.14" fill="#d4fccd"/><polygon points="1054.90,1304.19 1063.42,1289.43 1046.38,1289.43" fill="#dafcd4"/><polygon points="1100.40,1300.90 1106.07,1291.08 1094.73,1291.08" fill="#edfdea"/><polygon points="1314.40,1303.03 1321.92,1290.01 1306.88,1290.01" fill="#e7fce3"/><polygon points="235.90,1339.75 241.92,1329.32 229.88,1329.32" fill="#eafce6"/><polygon points="281.40,1347.26 293.92,1325.57 268.88,1325.57" fill="#abf7a1"/><polygon points="326.90,1339.00 332.27,1329.70 321.53,1329.70" fill="#effdec"/><polygon points="372.40,1339.35 378.07,1329.53 366.73,1329.53" fill="#edfdea"/><polygon points="463.40,1339.17 468.92,1329.61 457.88,1329.61" fill="#ecfde9"/><polygon points="554.40,1340.04 560.67,1329.18 548.13,1329.18" fill="#e8fce4"/><polygon points="599.90,1339.75 605.92,1329.32 593.88,1329.32" fill="#eafce6"/><polygon points="1009.40,1344.08 1019.17,1327.16 999.63,1327.16" fill="#c9fbc2"/><polygon points="1054.90,1339.35 1060.57,1329.53 1049.23,1329.53" fill="#edfdea"/><polygon points="1100.40,1339.75 1106.42,1329.32 1094.38,1329.32" fill="#eafce6"/><polygon points="1314.40,1340.62 1321.17,1328.89 1307.63,1328.89" fill="#ebfce7"/><polygon points="190.40,1379.36 197.42,1367.20 183.38,1367.20" fill="#e4fcdf"/><polygon points="235.90,1378.20 241.92,1367.77 229.88,1367.77" fill="#eafce6"/><polygon points="281.40,1385.82 294.02,1363.96 268.78,1363.96" fill="#aaf7a0"/><polygon points="326.90,1377.80 332.57,1367.98 321.23,1367.98" fill="#edfdea"/><polygon points="372.40,1379.36 379.42,1367.20 365.38,1367.20" fill="#e4fcdf"/><polygon points="463.40,1376.87 468.27,1368.44 458.53,1368.44" fill="#f1fdef"/><polygon points="554.40,1378.49 560.67,1367.63 548.13,1367.63" fill="#e8fce4"/><polygon points="599.90,1378.78 606.42,1367.49 593.38,1367.49" fill="#e7fce3"/><polygon points="690.90,1377.80 696.57,1367.98 685.23,1367.98" fill="#edfdea"/><polygon points="781.90,1377.62 787.42,1368.06 776.38,1368.06" fill="#ecfde9"/><polygon points="918.40,1379.36 925.42,1367.20 911.38,1367.20" fill="#e4fcdf"/><polygon points="963.90,1378.49 970.17,1367.63 957.63,1367.63" fill="#e8fce4"/><polygon points="1009.40,1382.53 1019.17,1365.61 999.63,1365.61" fill="#c9fbc2"/><polygon points="1054.90,1379.93 1062.42,1366.91 1047.38,1366.91" fill="#e0fcdc"/><polygon points="1100.40,1378.49 1106.67,1367.63 1094.13,1367.63" fill="#e8fce4"/><polygon points="1145.90,1378.49 1152.17,1367.63 1139.63,1367.63" fill="#e8fce4"/><polygon points="1314.40,1379.93 1321.92,1366.91 1306.88,1366.91" fill="#e7fce3"/><polygon points="190.40,1416.25 196.07,1406.43 184.73,1406.43" fill="#edfdea"/><polygon points="235.90,1420.40 245.17,1404.35 226.63,1404.35" fill="#d0fcca"/><polygon points="281.40,1429.12 298.22,1399.99 264.58,1399.99" fill="#40f818"/><polygon points="326.90,1419.54 335.42,1404.78 318.38,1404.78" fill="#dafcd4"/><polygon points="372.40,1419.54 380.92,1404.78 363.88,1404.78" fill="#dafcd4"/><polygon points="417.90,1417.23 424.42,1405.94 411.38,1405.94" fill="#e7fce3"/><polygon points="463.40,1417.23 469.92,1405.94 456.88,1405.94" fill="#e7fce3"/><polygon points="690.90,1416.07 696.42,1406.51 685.38,1406.51" fill="#ecfde9"/><polygon points="781.90,1416.94 788.17,1406.08 775.63,1406.08" fill="#e8fce4"/><polygon points="827.40,1416.25 833.07,1406.43 821.73,1406.43" fill="#edfdea"/><polygon points="918.40,1417.23 924.92,1405.94 911.88,1405.94" fill="#e7fce3"/><polygon points="963.90,1416.07 969.42,1406.51 958.38,1406.51" fill="#ecfde9"/><polygon points="1009.40,1421.27 1019.42,1403.91 999.38,1403.91" fill="#c5fbbd"/><polygon points="1054.90,1418.09 1062.17,1405.50 1047.63,1405.50" fill="#e2fcdd"/><polygon points="1100.40,1416.07 1105.92,1406.51 1094.88,1406.51" fill="#ecfde9"/><polygon points="1191.40,1415.90 1196.77,1406.60 1186.03,1406.60" fill="#effdec"/><polygon points="1314.40,1419.54 1322.92,1404.78 1305.88,1404.78" fill="#e2fcdd"/><polygon points="190.40,1458.57 199.42,1442.94 181.38,1442.94" fill="#d4fccd"/><polygon points="281.40,1460.59 292.17,1441.93 270.63,1441.93" fill="#b9f9b0"/><polygon points="326.90,1457.99 335.42,1443.23 318.38,1443.23" fill="#dafcd4"/><polygon points="372.40,1457.99 380.92,1443.23 363.88,1443.23" fill="#dafcd4"/><polygon points="417.90,1457.99 426.42,1443.23 409.38,1443.23" fill="#dafcd4"/><polygon points="463.40,1456.26 470.42,1444.10 456.38,1444.10" fill="#e4fcdf"/><polygon points="508.90,1457.41 516.92,1443.52 500.88,1443.52" fill="#ddfcd8"/><polygon points="554.40,1455.68 560.92,1444.39 547.88,1444.39" fill="#e7fce3"/><polygon points="645.40,1457.41 653.42,1443.52 637.38,1443.52" fill="#ddfcd8"/><polygon points="690.90,1456.54 698.17,1443.95 683.63,1443.95" fill="#e2fcdd"/><polygon points="736.40,1455.39 742.67,1444.53 730.13,1444.53" fill="#e8fce4"/><polygon points="781.90,1459.72 791.92,1442.36 771.88,1442.36" fill="#c5fbbd"/><polygon points="827.40,1455.68 833.92,1444.39 820.88,1444.39" fill="#e7fce3"/><polygon points="872.90,1455.39 879.17,1444.53 866.63,1444.53" fill="#e8fce4"/><polygon points="918.40,1457.41 926.42,1443.52 910.38,1443.52" fill="#ddfcd8"/><polygon points="963.90,1458.57 972.92,1442.94 954.88,1442.94" fill="#d4fccd"/><polygon points="1009.40,1456.54 1016.67,1443.95 1002.13,1443.95" fill="#e2fcdd"/><polygon points="1054.90,1459.14 1064.42,1442.65 1045.38,1442.65" fill="#cdfcc6"/><polygon points="1100.40,1457.99 1108.92,1443.23 1091.88,1443.23" fill="#dafcd4"/><polygon points="1145.90,1455.68 1152.42,1444.39 1139.38,1444.39" fill="#e7fce3"/><polygon points="1314.40,1459.72 1324.42,1442.36 1304.38,1442.36" fill="#d8fcd2"/><polygon points="190.40,1497.02 199.42,1481.39 181.38,1481.39" fill="#d4fccd"/><polygon points="281.40,1499.04 292.17,1480.38 270.63,1480.38" fill="#b9f9b0"/><polygon points="326.90,1495.86 334.92,1481.97 318.88,1481.97" fill="#ddfcd8"/><polygon points="372.40,1496.44 380.92,1481.68 363.88,1481.68" fill="#dafcd4"/><polygon points="417.90,1496.44 426.42,1481.68 409.38,1481.68" fill="#dafcd4"/><polygon points="463.40,1494.71 470.42,1482.55 456.38,1482.55" fill="#e4fcdf"/><polygon points="508.90,1495.86 516.92,1481.97 500.88,1481.97" fill="#ddfcd8"/><polygon points="554.40,1493.84 560.67,1482.98 548.13,1482.98" fill="#e8fce4"/><polygon points="645.40,1496.44 653.92,1481.68 636.88,1481.68" fill="#dafcd4"/><polygon points="690.90,1494.99 698.17,1482.40 683.63,1482.40" fill="#e2fcdd"/><polygon points="736.40,1493.84 742.67,1482.98 730.13,1482.98" fill="#e8fce4"/><polygon points="781.90,1498.17 791.92,1480.81 771.88,1480.81" fill="#c5fbbd"/><polygon points="827.40,1494.13 833.92,1482.84 820.88,1482.84" fill="#e7fce3"/><polygon points="872.90,1493.84 879.17,1482.98 866.63,1482.98" fill="#e8fce4"/><polygon points="918.40,1495.86 926.42,1481.97 910.38,1481.97" fill="#ddfcd8"/><polygon points="963.90,1497.02 972.92,1481.39 954.88,1481.39" fill="#d4fccd"/><polygon points="1009.40,1495.28 1016.92,1482.26 1001.88,1482.26" fill="#e0fcdc"/><polygon points="1054.90,1497.59 1064.42,1481.10 1045.38,1481.10" fill="#cdfcc6"/><polygon points="1100.40,1496.44 1108.92,1481.68 1091.88,1481.68" fill="#dafcd4"/><polygon points="1145.90,1494.13 1152.42,1482.84 1139.38,1482.84" fill="#e7fce3"/><polygon points="1314.40,1498.17 1324.42,1480.81 1304.38,1480.81" fill="#d8fcd2"/><polygon points="190.40,1533.44 197.67,1520.85 183.13,1520.85" fill="#e2fcdd"/><polygon points="281.40,1536.04 290.92,1519.55 271.88,1519.55" fill="#cdfcc6"/><polygon points="326.90,1532.29 333.17,1521.43 320.63,1521.43" fill="#e8fce4"/><polygon points="417.90,1532.58 424.42,1521.29 411.38,1521.29" fill="#e7fce3"/><polygon points="463.40,1532.58 469.92,1521.29 456.88,1521.29" fill="#e7fce3"/><polygon points="508.90,1534.31 516.92,1520.42 500.88,1520.42" fill="#ddfcd8"/><polygon points="554.40,1531.60 560.07,1521.78 548.73,1521.78" fill="#edfdea"/><polygon points="645.40,1533.73 652.92,1520.71 637.88,1520.71" fill="#e0fcdc"/><polygon points="690.90,1533.44 698.17,1520.85 683.63,1520.85" fill="#e2fcdd"/><polygon points="736.40,1531.60 742.07,1521.78 730.73,1521.78" fill="#edfdea"/><polygon points="781.90,1535.47 790.92,1519.84 772.88,1519.84" fill="#d4fccd"/><polygon points="827.40,1533.73 834.92,1520.71 819.88,1520.71" fill="#e0fcdc"/><polygon points="872.90,1531.25 878.27,1521.95 867.53,1521.95" fill="#effdec"/><polygon points="918.40,1531.42 923.92,1521.86 912.88,1521.86" fill="#ecfde9"/><polygon points="963.90,1534.31 971.92,1520.42 955.88,1520.42" fill="#ddfcd8"/><polygon points="1009.40,1533.16 1016.42,1521.00 1002.38,1521.00" fill="#e4fcdf"/><polygon points="1054.90,1534.89 1063.42,1520.13 1046.38,1520.13" fill="#dafcd4"/><polygon points="1100.40,1533.44 1107.67,1520.85 1093.13,1520.85" fill="#e2fcdd"/><polygon points="1145.90,1532.58 1152.42,1521.29 1139.38,1521.29" fill="#e7fce3"/><polygon points="1314.40,1534.89 1322.92,1520.13 1305.88,1520.13" fill="#e2fcdd"/><polygon points="190.40,1575.94 201.17,1557.28 179.63,1557.28" fill="#b9f9b0"/><polygon points="281.40,1577.38 293.42,1556.56 269.38,1556.56" fill="#aef7a4"/><polygon points="326.90,1573.92 335.92,1558.29 317.88,1558.29" fill="#d4fccd"/><polygon points="372.40,1574.49 381.92,1558.00 362.88,1558.00" fill="#cdfcc6"/><polygon points="417.90,1574.49 427.42,1558.00 408.38,1558.00" fill="#cdfcc6"/><polygon points="463.40,1572.18 470.92,1559.16 455.88,1559.16" fill="#e0fcdc"/><polygon points="508.90,1574.78 518.67,1557.86 499.13,1557.86" fill="#c9fbc2"/><polygon points="554.40,1573.92 563.42,1558.29 545.38,1558.29" fill="#d4fccd"/><polygon points="599.90,1571.03 606.42,1559.74 593.38,1559.74" fill="#e7fce3"/><polygon points="645.40,1575.07 655.42,1557.71 635.38,1557.71" fill="#c5fbbd"/><polygon points="690.90,1574.49 700.42,1558.00 681.38,1558.00" fill="#cdfcc6"/><polygon points="736.40,1572.18 743.92,1559.16 728.88,1559.16" fill="#e0fcdc"/><polygon points="781.90,1576.22 792.92,1557.14 770.88,1557.14" fill="#b5f8ab"/><polygon points="827.40,1571.61 834.42,1559.45 820.38,1559.45" fill="#e4fcdf"/><polygon points="872.90,1571.89 880.17,1559.30 865.63,1559.30" fill="#e2fcdd"/><polygon points="918.40,1574.49 927.92,1558.00 908.88,1558.00" fill="#cdfcc6"/><polygon points="963.90,1575.94 974.67,1557.28 953.13,1557.28" fill="#b9f9b0"/><polygon points="1009.40,1571.61 1016.42,1559.45 1002.38,1559.45" fill="#e4fcdf"/><polygon points="1054.90,1575.94 1065.67,1557.28 1044.13,1557.28" fill="#b9f9b0"/><polygon points="1100.40,1574.49 1109.92,1558.00 1090.88,1558.00" fill="#cdfcc6"/><polygon points="1145.90,1573.34 1154.42,1558.58 1137.38,1558.58" fill="#dafcd4"/><polygon points="1191.40,1569.87 1196.92,1560.31 1185.88,1560.31" fill="#ecfde9"/><polygon points="1314.40,1576.80 1325.92,1556.85 1302.88,1556.85" fill="#c6fbbe"/><polygon points="190.40,1613.23 200.17,1596.31 180.63,1596.31" fill="#c9fbc2"/><polygon points="235.90,1615.25 247.42,1595.30 224.38,1595.30" fill="#b2f8a8"/><polygon points="326.90,1611.21 334.92,1597.32 318.88,1597.32" fill="#ddfcd8"/><polygon points="372.40,1612.94 381.92,1596.45 362.88,1596.45" fill="#cdfcc6"/><polygon points="417.90,1611.79 426.42,1597.03 409.38,1597.03" fill="#dafcd4"/><polygon points="463.40,1610.06 470.42,1597.90 456.38,1597.90" fill="#e4fcdf"/><polygon points="508.90,1611.79 517.42,1597.03 500.38,1597.03" fill="#dafcd4"/><polygon points="554.40,1611.21 562.42,1597.32 546.38,1597.32" fill="#ddfcd8"/><polygon points="645.40,1610.63 652.92,1597.61 637.88,1597.61" fill="#e0fcdc"/><polygon points="736.40,1608.50 742.07,1598.68 730.73,1598.68" fill="#edfdea"/><polygon points="781.90,1611.79 790.42,1597.03 773.38,1597.03" fill="#dafcd4"/><polygon points="827.40,1609.48 833.92,1598.19 820.88,1598.19" fill="#e7fce3"/><polygon points="872.90,1609.19 879.17,1598.33 866.63,1598.33" fill="#e8fce4"/><polygon points="918.40,1610.34 925.67,1597.75 911.13,1597.75" fill="#e2fcdd"/><polygon points="963.90,1611.79 972.42,1597.03 955.38,1597.03" fill="#dafcd4"/><polygon points="1054.90,1611.21 1062.92,1597.32 1046.88,1597.32" fill="#ddfcd8"/><polygon points="1100.40,1612.94 1109.92,1596.45 1090.88,1596.45" fill="#cdfcc6"/><polygon points="1145.90,1609.19 1152.17,1598.33 1139.63,1598.33" fill="#e8fce4"/><polygon points="1314.40,1612.37 1323.42,1596.74 1305.38,1596.74" fill="#dffcda"/></g>
<g fill="none" stroke="#fff" stroke-width="10"><circle cx="1426.10" cy="25.50" r="13.5"/><rect x="1503.80" y="13.90" width="23.2" height="23.2"/><circle cx="1604.80" cy="25.50" r="13.5"/><rect x="1414.50" y="52.35" width="23.2" height="23.2"/><circle cx="1515.40" cy="63.95" r="13.5"/><circle cx="1604.80" cy="63.95" r="13.5"/><circle cx="1426.10" cy="102.40" r="13.5"/><rect x="1503.80" y="90.80" width="23.2" height="23.2"/><circle cx="1604.80" cy="102.40" r="13.5"/><circle cx="1426.10" cy="140.85" r="13.5"/><rect x="1503.80" y="129.25" width="23.2" height="23.2"/><rect x="1593.20" y="129.25" width="23.2" height="23.2"/><circle cx="1426.10" cy="179.30" r="13.5"/><rect x="1503.80" y="167.70" width="23.2" height="23.2"/><rect x="1593.20" y="167.70" width="23.2" height="23.2"/><circle cx="1426.10" cy="217.75" r="13.5"/><circle cx="1515.40" cy="217.75" r="13.5"/><circle cx="1604.80" cy="217.75" r="13.5"/><circle cx="1426.10" cy="256.20" r="13.5"/><circle cx="1515.40" cy="256.20" r="13.5"/><circle cx="1604.80" cy="256.20" r="13.5"/><circle cx="1426.10" cy="294.65" r="13.5"/><circle cx="1515.40" cy="294.65" r="13.5"/><circle cx="1604.80" cy="294.65" r="13.5"/><rect x="1414.50" y="321.50" width="23.2" height="23.2"/><circle cx="1515.40" cy="333.10" r="13.5"/><circle cx="1604.80" cy="333.10" r="13.5"/><circle cx="1426.10" cy="371.55" r="13.5"/><rect x="1503.80" y="359.95" width="23.2" height="23.2"/><rect x="1593.20" y="359.95" width="23.2" height="23.2"/><circle cx="1426.10" cy="410.00" r="13.5"/><rect x="1503.80" y="398.40" width="23.2" height="23.2"/><circle cx="1604.80" cy="410.00" r="13.5"/><rect x="1414.50" y="436.85" width="23.2" height="23.2"/><circle cx="1515.40" cy="448.45" r="13.5"/><circle cx="1604.80" cy="448.45" r="13.5"/><rect x="1414.50" y="475.30" width="23.2" height="23.2"/><circle cx="1515.40" cy="486.90" r="13.5"/><circle cx="1604.80" cy="486.90" r="13.5"/><rect x="1414.50" y="513.75" width="23.2" height="23.2"/><circle cx="1515.40" cy="525.35" r="13.5"/><circle cx="1604.80" cy="525.35" r="13.5"/><rect x="1414.50" y="552.20" width="23.2" height="23.2"/><circle cx="1515.40" cy="563.80" r="13.5"/><circle cx="1604.80" cy="563.80" r="13.5"/><circle cx="1426.10" cy="602.25" r="13.5"/><circle cx="1515.40" cy="602.25" r="13.5"/><rect x="1593.20" y="590.65" width="23.2" height="23.2"/><circle cx="1426.10" cy="640.70" r="13.5"/><rect x="1503.80" y="629.10" width="23.2" height="23.2"/><rect x="1593.20" y="629.10" width="23.2" height="23.2"/><rect x="1414.50" y="667.55" width="23.2" height="23.2"/><circle cx="1515.40" cy="679.15" r="13.5"/><circle cx="1604.80" cy="679.15" r="13.5"/><circle cx="1426.10" cy="717.60" r="13.5"/><circle cx="1515.40" cy="717.60" r="13.5"/><rect x="1593.20" y="706.00" width="23.2" height="23.2"/><circle cx="1426.10" cy="756.05" r="13.5"/><rect x="1503.80" y="744.45" width="23.2" height="23.2"/><circle cx="1604.80" cy="756.05" r="13.5"/><rect x="1414.50" y="782.90" width="23.2" height="23.2"/><circle cx="1515.40" cy="794.50" r="13.5"/><circle cx="1604.80" cy="794.50" r="13.5"/><circle cx="1426.10" cy="832.95" r="13.5"/><rect x="1503.80" y="821.35" width="23.2" height="23.2"/><circle cx="1604.80" cy="832.95" r="13.5"/><rect x="1414.50" y="859.80" width="23.2" height="23.2"/><circle cx="1515.40" cy="871.40" r="13.5"/><circle cx="1604.80" cy="871.40" r="13.5"/><circle cx="1426.10" cy="909.85" r="13.5"/><rect x="1503.80" y="898.25" width="23.2" height="23.2"/><rect x="1593.20" y="898.25" width="23.2" height="23.2"/><circle cx="1426.10" cy="948.30" r="13.5"/><rect x="1503.80" y="936.70" width="23.2" height="23.2"/><rect x="1593.20" y="936.70" width="23.2" height="23.2"/><circle cx="1426.10" cy="986.75" r="13.5"/><circle cx="1515.40" cy="986.75" r="13.5"/><rect x="1593.20" y="975.15" width="23.2" height="23.2"/><circle cx="1426.10" cy="1025.20" r="13.5"/><rect x="1503.80" y="1013.60" width="23.2" height="23.2"/><circle cx="1604.80" cy="1025.20" r="13.5"/><rect x="1414.50" y="1052.05" width="23.2" height="23.2"/><circle cx="1515.40" cy="1063.65" r="13.5"/><circle cx="1604.80" cy="1063.65" r="13.5"/><rect x="1414.50" y="1090.50" width="23.2" height="23.2"/><circle cx="1515.40" cy="1102.10" r="13.5"/><circle cx="1604.80" cy="1102.10" r="13.5"/><circle cx="1426.10" cy="1140.55" r="13.5"/><rect x="1503.80" y="1128.95" width="23.2" height="23.2"/><circle cx="1604.80" cy="1140.55" r="13.5"/><circle cx="1426.10" cy="1179.00" r="13.5"/><rect x="1503.80" y="1167.40" width="23.2" height="23.2"/><circle cx="1604.80" cy="1179.00" r="13.5"/><circle cx="1426.10" cy="1217.45" r="13.5"/><rect x="1503.80" y="1205.85" width="23.2" height="23.2"/><rect x="1593.20" y="1205.85" width="23.2" height="23.2"/><circle cx="1426.10" cy="1255.90" r="13.5"/><circle cx="1515.40" cy="1255.90" r="13.5"/><circle cx="1604.80" cy="1255.90" r="13.5"/><rect x="1414.50" y="1282.75" width="23.2" height="23.2"/><circle cx="1515.40" cy="1294.35" r="13.5"/><circle cx="1604.80" cy="1294.35" r="13.5"/><rect x="1414.50" y="1321.20" width="23.2" height="23.2"/><circle cx="1515.40" cy="1332.80" r="13.5"/><circle cx="1604.80" cy="1332.80" r="13.5"/><circle cx="1426.10" cy="1371.25" r="13.5"/><rect x="1503.80" y="1359.65" width="23.2" height="23.2"/><rect x="1593.20" y="1359.65" width="23.2" height="23.2"/><circle cx="1426.10" cy="1409.70" r="13.5"/><circle cx="1515.40" cy="1409.70" r="13.5"/><circle cx="1604.80" cy="1409.70" r="13.5"/><circle cx="1426.10" cy="1448.15" r="13.5"/><rect x="1503.80" y="1436.55" width="23.2" height="23.2"/><rect x="1593.20" y="1436.55" width="23.2" height="23.2"/><circle cx="1426.10" cy="1486.60" r="13.5"/><circle cx="1515.40" cy="1486.60" r="13.5"/><rect x="1593.20" y="1475.00" width="23.2" height="23.2"/><rect x="1414.50" y="1513.45" width="23.2" height="23.2"/><circle cx="1515.40" cy="1525.05" r="13.5"/><circle cx="1604.80" cy="1525.05" r="13.5"/><circle cx="1426.10" cy="1563.50" r="13.5"/><rect x="1503.80" y="1551.90" width="23.2" height="23.2"/><circle cx="1604.80" cy="1563.50" r="13.5"/><rect x="1414.50" y="1590.35" width="23.2" height="23.2"/><circle cx="1515.40" cy="1601.95" r="13.5"/><circle cx="1604.80" cy="1601.95" r="13.5"/></g>
<g stroke="#000" stroke-width="1.9"><circle cx="1426.10" cy="25.50" r="13.5" fill="#fff" fill-opacity="0.3"/><rect x="1503.80" y="13.90" width="23.2" height="23.2" fill="#ff2010"/><circle cx="1604.80" cy="25.50" r="13.5" fill="#fff" fill-opacity="0.3"/><rect x="1414.50" y="52.35" width="23.2" height="23.2" fill="#ff2010"/><circle cx="1515.40" cy="63.95" r="13.5" fill="#fff" fill-opacity="0.3"/><circle cx="1604.80" cy="63.95" r="13.5" fill="#fff" fill-opacity="0.3"/><circle cx="1426.10" cy="102.40" r="13.5" fill="#fff" fill-opacity="0.3"/><rect x="1503.80" y="90.80" width="23.2" height="23.2" fill="#ff2010"/><circle cx="1604.80" cy="102.40" r="13.5" fill="#fff" fill-opacity="0.3"/><circle cx="1426.10" cy="140.85" r="13.5" fill="#fff" fill-opacity="0.3"/><rect x="1503.80" y="129.25" width="23.2" height="23.2" fill="#ff2010"/><rect x="1593.20" y="129.25" width="23.2" height="23.2" fill="#ff2010"/><circle cx="1426.10" cy="179.30" r="13.5" fill="#fff" fill-opacity="0.3"/><rect x="1503.80" y="167.70" width="23.2" height="23.2" fill="#ff2010"/><rect x="1593.20" y="167.70" width="23.2" height="23.2" fill="#ff2010"/><circle cx="1426.10" cy="217.75" r="13.5" fill="#fff" fill-opacity="0.3"/><circle cx="1515.40" cy="217.75" r="13.5" fill="#fff" fill-opacity="0.3"/><circle cx="1604.80" cy="217.75" r="13.5" fill="#fff" fill-opacity="0.3"/><circle cx="1426.10" cy="256.20" r="13.5" fill="#fff" fill-opacity="0.3"/><circle cx="1515.40" cy="256.20" r="13.5" fill="#fff" fill-opacity="0.3"/><circle cx="1604.80" cy="256.20" r="13.5" fill="#fff" fill-opacity="0.3"/><circle cx="1426.10" cy="294.65" r="13.5" fill="#fff" fill-opacity="0.3"/><circle cx="1515.40" cy="294.65" r="13.5" fill="#fff" fill-opacity="0.3"/><circle cx="1604.80" cy="294.65" r="13.5" fill="#fff" fill-opacity="0.3"/><rect x="1414.50" y="321.50" width="23.2" height="23.2" fill="#ff2010"/><circle cx="1515.40" cy="333.10" r="13.5" fill="#fff" fill-opacity="0.3"/><circle cx="1604.80" cy="333.10" r="13.5" fill="#fff" fill-opacity="0.3"/><circle cx="1426.10" cy="371.55" r="13.5" fill="#fff" fill-opacity="0.3"/><rect x="1503.80" y="359.95" width="23.2" height="23.2" fill="#ff2010"/><rect x="1593.20" y="359.95" width="23.2" height="23.2" fill="#ff2010"/><circle cx="1426.10" cy="410.00" r="13.5" fill="#fff" fill-opacity="0.3"/><rect x="1503.80" y="398.40" width="23.2" height="23.2" fill="#ff2010"/><circle cx="1604.80" cy="410.00" r="13.5" fill="#fff" fill-opacity="0.3"/><rect x="1414.50" y="436.85" width="23.2" height="23.2" fill="#ff2010"/><circle cx="1515.40" cy="448.45" r="13.5" fill="#fff" fill-opacity="0.3"/><circle cx="1604.80" cy="448.45" r="13.5" fill="#fff" fill-opacity="0.3"/><rect x="1414.50" y="475.30" width="23.2" height="23.2" fill="#ff2010"/><circle cx="1515.40" cy="486.90" r="13.5" fill="#fff" fill-opacity="0.3"/><circle cx="1604.80" cy="486.90" r="13.5" fill="#fff" fill-opacity="0.3"/><rect x="1414.50" y="513.75" width="23.2" height="23.2" fill="#ff2010"/><circle cx="1515.40" cy="525.35" r="13.5" fill="#fff" fill-opacity="0.3"/><circle cx="1604.80" cy="525.35" r="13.5" fill="#fff" fill-opacity="0.3"/><rect x="1414.50" y="552.20" width="23.2" height="23.2" fill="#ff2010"/><circle cx="1515.40" cy="563.80" r="13.5" fill="#fff" fill-opacity="0.3"/><circle cx="1604.80" cy="563.80" r="13.5" fill="#fff" fill-opacity="0.3"/><circle cx="1426.10" cy="602.25" r="13.5" fill="#fff" fill-opacity="0.3"/><circle cx="1515.40" cy="602.25" r="13.5" fill="#fff" fill-opacity="0.3"/><rect x="1593.20" y="590.65" width="23.2" height="23.2" fill="#ff2010"/><circle cx="1426.10" cy="640.70" r="13.5" fill="#fff" fill-opacity="0.3"/><rect x="1503.80" y="629.10" width="23.2" height="23.2" fill="#ff2010"/><rect x="1593.20" y="629.10" width="23.2" height="23.2" fill="#ff2010"/><rect x="1414.50" y="667.55" width="23.2" height="23.2" fill="#ff2010"/><circle cx="1515.40" cy="679.15" r="13.5" fill="#fff" fill-opacity="0.3"/><circle cx="1604.80" cy="679.15" r="13.5" fill="#fff" fill-opacity="0.3"/><circle cx="1426.10" cy="717.60" r="13.5" fill="#fff" fill-opacity="0.3"/><circle cx="1515.40" cy="717.60" r="13.5" fill="#fff" fill-opacity="0.3"/><rect x="1593.20" y="706.00" width="23.2" height="23.2" fill="#ff2010"/><circle cx="1426.10" cy="756.05" r="13.5" fill="#fff" fill-opacity="0.3"/><rect x="1503.80" y="744.45" width="23.2" height="23.2" fill="#ff2010"/><circle cx="1604.80" cy="756.05" r="13.5" fill="#fff" fill-opacity="0.3"/><rect x="1414.50" y="782.90" width="23.2" height="23.2" fill="#ff2010"/><circle cx="1515.40" cy="794.50" r="13.5" fill="#fff" fill-opacity="0.3"/><circle cx="1604.80" cy="794.50" r="13.5" fill="#fff" fill-opacity="0.3"/><circle cx="1426.10" cy="832.95" r="13.5" fill="#fff" fill-opacity="0.3"/><rect x="1503.80" y="821.35" width="23.2" height="23.2" fill="#ff2010"/><circle cx="1604.80" cy="832.95" r="13.5" fill="#fff" fill-opacity="0.3"/><rect x="1414.50" y="859.80" width="23.2" height="23.2" fill="#ff2010"/><circle cx="1515.40" cy="871.40" r="13.5" fill="#fff" fill-opacity="0.3"/><circle cx="1604.80" cy="871.40" r="13.5" fill="#fff" fill-opacity="0.3"/><circle cx="1426.10" cy="909.85" r="13.5" fill="#fff" fill-opacity="0.3"/><rect x="1503.80" y="898.25" width="23.2" height="23.2" fill="#ff2010"/><rect x="1593.20" y="898.25" width="23.2" height="23.2" fill="#ff2010"/><circle cx="1426.10" cy="948.30" r="13.5" fill="#fff" fill-opacity="0.3"/><rect x="1503.80" y="936.70" width="23.2" height="23.2" fill="#ff2010"/><rect x="1593.20" y="936.70" width="23.2" height="23.2" fill="#ff2010"/><circle cx="1426.10" cy="986.75" r="13.5" fill="#fff" fill-opacity="0.3"/><circle cx="1515.40" cy="986.75" r="13.5" fill="#fff" fill-opacity="0.3"/><rect x="1593.20" y="975.15" width="23.2" height="23.2" fill="#ff2010"/><circle cx="1426.10" cy="1025.20" r="13.5" fill="#fff" fill-opacity="0.3"/><rect x="1503.80" y="1013.60" width="23.2" height="23.2" fill="#ff2010"/><circle cx="1604.80" cy="1025.20" r="13.5" fill="#fff" fill-opacity="0.3"/><rect x="1414.50" y="1052.05" width="23.2" height="23.2" fill="#ff2010"/><circle cx="1515.40" cy="1063.65" r="13.5" fill="#fff" fill-opacity="0.3"/><circle cx="1604.80" cy="1063.65" r="13.5" fill="#fff" fill-opacity="0.3"/><rect x="1414.50" y="1090.50" width="23.2" height="23.2" fill="#ff2010"/><circle cx="1515.40" cy="1102.10" r="13.5" fill="#fff" fill-opacity="0.3"/><circle cx="1604.80" cy="1102.10" r="13.5" fill="#fff" fill-opacity="0.3"/><circle cx="1426.10" cy="1140.55" r="13.5" fill="#fff" fill-opacity="0.3"/><rect x="1503.80" y="1128.95" width="23.2" height="23.2" fill="#ff2010"/><circle cx="1604.80" cy="1140.55" r="13.5" fill="#fff" fill-opacity="0.3"/><circle cx="1426.10" cy="1179.00" r="13.5" fill="#fff" fill-opacity="0.3"/><rect x="1503.80" y="1167.40" width="23.2" height="23.2" fill="#ff2010"/><circle cx="1604.80" cy="1179.00" r="13.5" fill="#fff" fill-opacity="0.3"/><circle cx="1426.10" cy="1217.45" r="13.5" fill="#fff" fill-opacity="0.3"/><rect x="1503.80" y="1205.85" width="23.2" height="23.2" fill="#ff2010"/><rect x="1593.20" y="1205.85" width="23.2" height="23.2" fill="#ff2010"/><circle cx="1426.10" cy="1255.90" r="13.5" fill="#fff" fill-opacity="0.3"/><circle cx="1515.40" cy="1255.90" r="13.5" fill="#fff" fill-opacity="0.3"/><circle cx="1604.80" cy="1255.90" r="13.5" fill="#fff" fill-opacity="0.3"/><rect x="1414.50" y="1282.75" width="23.2" height="23.2" fill="#ff2010"/><circle cx="1515.40" cy="1294.35" r="13.5" fill="#fff" fill-opacity="0.3"/><circle cx="1604.80" cy="1294.35" r="13.5" fill="#fff" fill-opacity="0.3"/><rect x="1414.50" y="1321.20" width="23.2" height="23.2" fill="#ff2010"/><circle cx="1515.40" cy="1332.80" r="13.5" fill="#fff" fill-opacity="0.3"/><circle cx="1604.80" cy="1332.80" r="13.5" fill="#fff" fill-opacity="0.3"/><circle cx="1426.10" cy="1371.25" r="13.5" fill="#fff" fill-opacity="0.3"/><rect x="1503.80" y="1359.65" width="23.2" height="23.2" fill="#ff2010"/><rect x="1593.20" y="1359.65" width="23.2" height="23.2" fill="#ff2010"/><circle cx="1426.10" cy="1409.70" r="13.5" fill="#fff" fill-opacity="0.3"/><circle cx="1515.40" cy="1409.70" r="13.5" fill="#fff" fill-opacity="0.3"/><circle cx="1604.80" cy="1409.70" r="13.5" fill="#fff" fill-opacity="0.3"/><circle cx="1426.10" cy="1448.15" r="13.5" fill="#fff" fill-opacity="0.3"/><rect x="1503.80" y="1436.55" width="23.2" height="23.2" fill="#ff2010"/><rect x="1593.20" y="1436.55" width="23.2" height="23.2" fill="#ff2010"/><circle cx="1426.10" cy="1486.60" r="13.5" fill="#fff" fill-opacity="0.3"/><circle cx="1515.40" cy="1486.60" r="13.5" fill="#fff" fill-opacity="0.3"/><rect x="1593.20" y="1475.00" width="23.2" height="23.2" fill="#ff2010"/><rect x="1414.50" y="1513.45" width="23.2" height="23.2" fill="#ff2010"/><circle cx="1515.40" cy="1525.05" r="13.5" fill="#fff" fill-opacity="0.3"/><circle cx="1604.80" cy="1525.05" r="13.5" fill="#fff" fill-opacity="0.3"/><circle cx="1426.10" cy="1563.50" r="13.5" fill="#fff" fill-opacity="0.3"/><rect x="1503.80" y="1551.90" width="23.2" height="23.2" fill="#ff2010"/><circle cx="1604.80" cy="1563.50" r="13.5" fill="#fff" fill-opacity="0.3"/><rect x="1414.50" y="1590.35" width="23.2" height="23.2" fill="#ff2010"/><circle cx="1515.40" cy="1601.95" r="13.5" fill="#fff" fill-opacity="0.3"/><circle cx="1604.80" cy="1601.95" r="13.5" fill="#fff" fill-opacity="0.3"/></g>
<path d="M139.0 3.0V1625.0" stroke="#7c7c7c" stroke-width="2.1" fill="none"/>
<path d="M1243.0 3.0V1625.0" stroke="#3a3a3a" stroke-width="1.9" fill="none"/>
<path d="M137.95 3.0H1243.95" stroke="#333" stroke-width="2.0" fill="none"/>
<path d="M137.95 1625.0H1243.95" stroke="#111" stroke-width="2.4" fill="none"/>
<path d="M1282.2 3.0V1625.0" stroke="#000" stroke-width="2.6" fill="none"/>
<path d="M1346.4 3.0V1625.0" stroke="#000" stroke-width="2.6" fill="none"/>
<path d="M1280.9 3.0H1347.7" stroke="#000" stroke-width="2.2" fill="none"/>
<path d="M1280.9 1625.0H1347.7" stroke="#000" stroke-width="2.5" fill="none"/>
<path d="M1372.8 3.0V1625.0" stroke="#000" stroke-width="2.6" fill="none"/>
<path d="M1657.7 3.0V1625.0" stroke="#000" stroke-width="1.9" fill="none"/>
<path d="M1371.5 3.0H1658.65" stroke="#000" stroke-width="2.2" fill="none"/>
<path d="M1371.5 1625.0H1658.65" stroke="#000" stroke-width="2.5" fill="none"/>
<rect x="134.0" y="435.7" width="1209.6" height="24.400000000000034" fill="none" stroke="#ebc934" stroke-width="2.7"/>
<rect x="134.0" y="934.8" width="1209.6" height="105.40000000000009" fill="none" stroke="#ebc934" stroke-width="2.7"/>
<rect x="134.0" y="1090.4" width="1209.6" height="67.19999999999982" fill="none" stroke="#ebc934" stroke-width="2.7"/>
<path d="M190.40 1625.0v7.5M235.90 1625.0v7.5M281.40 1625.0v7.5M326.90 1625.0v7.5M372.40 1625.0v7.5M417.90 1625.0v7.5M463.40 1625.0v7.5M508.90 1625.0v7.5M554.40 1625.0v7.5M599.90 1625.0v7.5M645.40 1625.0v7.5M690.90 1625.0v7.5M736.40 1625.0v7.5M781.90 1625.0v7.5M827.40 1625.0v7.5M872.90 1625.0v7.5M918.40 1625.0v7.5M963.90 1625.0v7.5M1009.40 1625.0v7.5M1054.90 1625.0v7.5M1100.40 1625.0v7.5M1145.90 1625.0v7.5M1191.40 1625.0v7.5M1314.4 1625.0v7.5M1426.1 1625.0v7.5M1515.4 1625.0v7.5M1604.8 1625.0v7.5M1657.7 25.50h7.5M1657.7 63.95h7.5M1657.7 102.40h7.5M1657.7 140.85h7.5M1657.7 179.30h7.5M1657.7 217.75h7.5M1657.7 256.20h7.5M1657.7 294.65h7.5M1657.7 333.10h7.5M1657.7 371.55h7.5M1657.7 410.00h7.5M1657.7 448.45h7.5M1657.7 486.90h7.5M1657.7 525.35h7.5M1657.7 563.80h7.5M1657.7 602.25h7.5M1657.7 640.70h7.5M1657.7 679.15h7.5M1657.7 717.60h7.5M1657.7 756.05h7.5M1657.7 794.50h7.5M1657.7 832.95h7.5M1657.7 871.40h7.5M1657.7 909.85h7.5M1657.7 948.30h7.5M1657.7 986.75h7.5M1657.7 1025.20h7.5M1657.7 1063.65h7.5M1657.7 1102.10h7.5M1657.7 1140.55h7.5M1657.7 1179.00h7.5M1657.7 1217.45h7.5M1657.7 1255.90h7.5M1657.7 1294.35h7.5M1657.7 1332.80h7.5M1657.7 1371.25h7.5M1657.7 1409.70h7.5M1657.7 1448.15h7.5M1657.7 1486.60h7.5M1657.7 1525.05h7.5M1657.7 1563.50h7.5M1657.7 1601.95h7.5" stroke="#000" stroke-width="2.6" fill="none"/>
<rect x="167.8" y="1633.0" width="1046.4" height="90.20000000000005" fill="#000"/>
<rect x="172.30" y="1638.20" width="38.40" height="35.90" fill="#a5d6e4" stroke="#b8f0fb" stroke-width="1.4"/>
<rect x="172.30" y="1681.10" width="38.40" height="37.80" fill="#b95f66" stroke="#e27a82" stroke-width="1.4"/>
<rect x="217.74" y="1638.20" width="38.40" height="35.90" fill="#a5d6e4" stroke="#b8f0fb" stroke-width="1.4"/>
<rect x="217.74" y="1681.10" width="38.40" height="37.80" fill="#b95f66" stroke="#e27a82" stroke-width="1.4"/>
<rect x="263.18" y="1638.20" width="38.40" height="35.90" fill="#4285bc" stroke="#52a4ea" stroke-width="1.4"/>
<rect x="263.18" y="1681.10" width="38.40" height="37.80" fill="#b95f66" stroke="#e27a82" stroke-width="1.4"/>
<rect x="308.62" y="1638.20" width="38.40" height="35.90" fill="#a5d6e4" stroke="#b8f0fb" stroke-width="1.4"/>
<rect x="308.62" y="1681.10" width="38.40" height="37.80" fill="#b95f66" stroke="#e27a82" stroke-width="1.4"/>
<rect x="354.06" y="1638.20" width="38.40" height="35.90" fill="#a5d6e4" stroke="#b8f0fb" stroke-width="1.4"/>
<rect x="354.06" y="1681.10" width="38.40" height="37.80" fill="#b95f66" stroke="#e27a82" stroke-width="1.4"/>
<rect x="399.50" y="1638.20" width="38.40" height="35.90" fill="#a5d6e4" stroke="#b8f0fb" stroke-width="1.4"/>
<rect x="399.50" y="1681.10" width="38.40" height="37.80" fill="#b95f66" stroke="#e27a82" stroke-width="1.4"/>
<rect x="444.94" y="1638.20" width="38.40" height="35.90" fill="#a5d6e4" stroke="#b8f0fb" stroke-width="1.4"/>
<rect x="444.94" y="1681.10" width="38.40" height="37.80" fill="#efce78" stroke="#fbe88c" stroke-width="1.4"/>
<rect x="490.38" y="1638.20" width="38.40" height="35.90" fill="#a5d6e4" stroke="#b8f0fb" stroke-width="1.4"/>
<rect x="490.38" y="1681.10" width="38.40" height="37.80" fill="#efce78" stroke="#fbe88c" stroke-width="1.4"/>
<rect x="535.82" y="1638.20" width="38.40" height="35.90" fill="#a5d6e4" stroke="#b8f0fb" stroke-width="1.4"/>
<rect x="535.82" y="1681.10" width="38.40" height="37.80" fill="#efce78" stroke="#fbe88c" stroke-width="1.4"/>
<rect x="581.26" y="1638.20" width="38.40" height="35.90" fill="#4285bc" stroke="#52a4ea" stroke-width="1.4"/>
<rect x="581.26" y="1681.10" width="38.40" height="37.80" fill="#efce78" stroke="#fbe88c" stroke-width="1.4"/>
<rect x="626.70" y="1638.20" width="38.40" height="35.90" fill="#a5d6e4" stroke="#b8f0fb" stroke-width="1.4"/>
<rect x="626.70" y="1681.10" width="38.40" height="37.80" fill="#efce78" stroke="#fbe88c" stroke-width="1.4"/>
<rect x="672.14" y="1638.20" width="38.40" height="35.90" fill="#4285bc" stroke="#52a4ea" stroke-width="1.4"/>
<rect x="672.14" y="1681.10" width="38.40" height="37.80" fill="#7ffbe0" stroke="#9afff0" stroke-width="1.4"/>
<rect x="717.58" y="1638.20" width="38.40" height="35.90" fill="#a5d6e4" stroke="#b8f0fb" stroke-width="1.4"/>
<rect x="717.58" y="1681.10" width="38.40" height="37.80" fill="#7ffbe0" stroke="#9afff0" stroke-width="1.4"/>
<rect x="763.02" y="1638.20" width="38.40" height="35.90" fill="#a5d6e4" stroke="#b8f0fb" stroke-width="1.4"/>
<rect x="763.02" y="1681.10" width="38.40" height="37.80" fill="#7ffbe0" stroke="#9afff0" stroke-width="1.4"/>
<rect x="808.46" y="1638.20" width="38.40" height="35.90" fill="#a5d6e4" stroke="#b8f0fb" stroke-width="1.4"/>
<rect x="808.46" y="1681.10" width="38.40" height="37.80" fill="#7ffbe0" stroke="#9afff0" stroke-width="1.4"/>
<rect x="853.90" y="1638.20" width="38.40" height="35.90" fill="#a5d6e4" stroke="#b8f0fb" stroke-width="1.4"/>
<rect x="853.90" y="1681.10" width="38.40" height="37.80" fill="#7ffbe0" stroke="#9afff0" stroke-width="1.4"/>
<rect x="899.34" y="1638.20" width="38.40" height="35.90" fill="#a5d6e4" stroke="#b8f0fb" stroke-width="1.4"/>
<rect x="899.34" y="1681.10" width="38.40" height="37.80" fill="#7ffbe0" stroke="#9afff0" stroke-width="1.4"/>
<rect x="944.78" y="1638.20" width="38.40" height="35.90" fill="#a5d6e4" stroke="#b8f0fb" stroke-width="1.4"/>
<rect x="944.78" y="1681.10" width="38.40" height="37.80" fill="#7ffbe0" stroke="#9afff0" stroke-width="1.4"/>
<rect x="990.22" y="1638.20" width="38.40" height="35.90" fill="#4285bc" stroke="#52a4ea" stroke-width="1.4"/>
<rect x="990.22" y="1681.10" width="38.40" height="37.80" fill="#8a7294" stroke="#b092bd" stroke-width="1.4"/>
<rect x="1035.66" y="1638.20" width="38.40" height="35.90" fill="#a5d6e4" stroke="#b8f0fb" stroke-width="1.4"/>
<rect x="1035.66" y="1681.10" width="38.40" height="37.80" fill="#8a7294" stroke="#b092bd" stroke-width="1.4"/>
<rect x="1081.10" y="1638.20" width="38.40" height="35.90" fill="#a5d6e4" stroke="#b8f0fb" stroke-width="1.4"/>
<rect x="1081.10" y="1681.10" width="38.40" height="37.80" fill="#8a7294" stroke="#b092bd" stroke-width="1.4"/>
<rect x="1126.54" y="1638.20" width="38.40" height="35.90" fill="#a5d6e4" stroke="#b8f0fb" stroke-width="1.4"/>
<rect x="1126.54" y="1681.10" width="38.40" height="37.80" fill="#8a7294" stroke="#b092bd" stroke-width="1.4"/>
<rect x="1171.98" y="1638.20" width="38.40" height="35.90" fill="#4285bc" stroke="#52a4ea" stroke-width="1.4"/>
<rect x="1171.98" y="1681.10" width="38.40" height="37.80" fill="#8a7294" stroke="#b092bd" stroke-width="1.4"/>
<text x="1670" y="32.90" font-size="21.1" fill="#262626" stroke="#262626" stroke-width="0.55">chr7:100242838:A:G_TRIP6</text>
<text x="1670" y="71.35" font-size="21.1" fill="#262626" stroke="#262626" stroke-width="0.55">chr7:100561944:A:G_ZCWPW1</text>
<text x="1670" y="109.80" font-size="21.1" fill="#262626" stroke="#262626" stroke-width="0.55">chr7:100242838:A:G_LRCH4</text>
<text x="1670" y="148.25" font-size="21.1" fill="#262626" stroke="#262626" stroke-width="0.55">chr7:100373690:T:C_LRCH4</text>
<text x="1670" y="186.70" font-size="21.1" fill="#262626" stroke="#262626" stroke-width="0.55">chr7:100373690:T:C_SAP25</text>
<text x="1670" y="225.15" font-size="21.1" fill="#262626" stroke="#262626" stroke-width="0.55">chr7:100373690:T:C_PILRB</text>
<text x="1670" y="263.60" font-size="21.1" fill="#262626" stroke="#262626" stroke-width="0.55">chr7:100374211:A:G_PILRB</text>
<text x="1670" y="302.05" font-size="21.1" fill="#262626" stroke="#262626" stroke-width="0.55">chr7:100242838:A:G_PILRB</text>
<text x="1670" y="340.50" font-size="21.1" fill="#262626" stroke="#262626" stroke-width="0.55">chr7:100561944:A:G_GPC2</text>
<text x="1670" y="378.95" font-size="21.1" fill="#262626" stroke="#262626" stroke-width="0.55">chr7:100373690:T:C_GPC2</text>
<text x="1670" y="417.40" font-size="21.1" fill="#262626" stroke="#262626" stroke-width="0.55">chr7:100242838:A:G_GPC2</text>
<text x="1670" y="455.85" font-size="21.1" fill="#262626" stroke="#262626" stroke-width="0.55">chr7:100561944:A:G_AGFG2</text>
<text x="1670" y="494.30" font-size="21.1" fill="#262626" stroke="#262626" stroke-width="0.55">chr21:26161943:T:C_CYYR1−AS1</text>
<text x="1670" y="532.75" font-size="21.1" fill="#262626" stroke="#262626" stroke-width="0.55">chr17:63492371:G:A_FTSJ3</text>
<text x="1670" y="571.20" font-size="21.1" fill="#262626" stroke="#262626" stroke-width="0.55">chr1:161189357:C:T_NDUFS2</text>
<text x="1670" y="609.65" font-size="21.1" fill="#262626" stroke="#262626" stroke-width="0.55">chr16:31122128:C:T_KAT8</text>
<text x="1670" y="648.10" font-size="21.1" fill="#262626" stroke="#262626" stroke-width="0.55">chr16:31143037:G:A_PRSS36</text>
<text x="1670" y="686.55" font-size="21.1" fill="#262626" stroke="#262626" stroke-width="0.55">chr7:100561944:A:G_AZGP1</text>
<text x="1670" y="725.00" font-size="21.1" fill="#262626" stroke="#262626" stroke-width="0.55">chr7:100374211:A:G_AZGP1</text>
<text x="1670" y="763.45" font-size="21.1" fill="#262626" stroke="#262626" stroke-width="0.55">chr7:100242838:A:G_GIGYF1</text>
<text x="1670" y="801.90" font-size="21.1" fill="#262626" stroke="#262626" stroke-width="0.55">chr7:100561944:A:G_GIGYF1</text>
<text x="1670" y="840.35" font-size="21.1" fill="#262626" stroke="#262626" stroke-width="0.55">chr16:31143037:G:A_STX4</text>
<text x="1670" y="878.80" font-size="21.1" fill="#262626" stroke="#262626" stroke-width="0.55">chr17:63492371:G:A_CYB561</text>
<text x="1670" y="917.25" font-size="21.1" fill="#262626" stroke="#262626" stroke-width="0.55">chr1:161186243:C:A_FCER1G</text>
<text x="1670" y="955.70" font-size="21.1" fill="#262626" stroke="#262626" stroke-width="0.55">chr7:100373690:T:C_AP4M1</text>
<text x="1670" y="994.15" font-size="21.1" fill="#262626" stroke="#262626" stroke-width="0.55">chr7:100374211:A:G_AP4M1</text>
<text x="1670" y="1032.60" font-size="21.1" fill="#262626" stroke="#262626" stroke-width="0.55">chr7:100242838:A:G_AP4M1</text>
<text x="1670" y="1071.05" font-size="21.1" fill="#262626" stroke="#262626" stroke-width="0.55">chr7:100561944:A:G_LAMTOR4</text>
<text x="1670" y="1109.50" font-size="21.1" fill="#262626" stroke="#262626" stroke-width="0.55">chr7:100561944:A:G_AP4M1</text>
<text x="1670" y="1147.95" font-size="21.1" fill="#262626" stroke="#262626" stroke-width="0.55">chr7:100242838:A:G_LAMTOR4</text>
<text x="1670" y="1186.40" font-size="21.1" fill="#262626" stroke="#262626" stroke-width="0.55">chr7:100242838:A:G_CNPY4</text>
<text x="1670" y="1224.85" font-size="21.1" fill="#262626" stroke="#262626" stroke-width="0.55">chr7:100373690:T:C_CNPY4</text>
<text x="1670" y="1263.30" font-size="21.1" fill="#262626" stroke="#262626" stroke-width="0.55">chr8:27354759:A:C_STMN4</text>
<text x="1670" y="1301.75" font-size="21.1" fill="#262626" stroke="#262626" stroke-width="0.55">chr7:100561944:A:G_STAG3</text>
<text x="1670" y="1340.20" font-size="21.1" fill="#262626" stroke="#262626" stroke-width="0.55">chr17:63492371:G:A_ACE</text>
<text x="1670" y="1378.65" font-size="21.1" fill="#262626" stroke="#262626" stroke-width="0.55">chr1:161186243:C:A_NDUFS2</text>
<text x="1670" y="1417.10" font-size="21.1" fill="#262626" stroke="#262626" stroke-width="0.55">chr7:54881563:A:G_EGFR</text>
<text x="1670" y="1455.55" font-size="21.1" fill="#262626" stroke="#262626" stroke-width="0.55">chr7:100373690:T:C_PVRIG</text>
<text x="1670" y="1494.00" font-size="21.1" fill="#262626" stroke="#262626" stroke-width="0.55">chr7:100374211:A:G_PVRIG</text>
<text x="1670" y="1532.45" font-size="21.1" fill="#262626" stroke="#262626" stroke-width="0.55">chr7:100561944:A:G_PVRIG</text>
<text x="1670" y="1570.90" font-size="21.1" fill="#262626" stroke="#262626" stroke-width="0.55">chr7:100242838:A:G_PVRIG</text>
<text x="1670" y="1609.35" font-size="21.1" fill="#262626" stroke="#262626" stroke-width="0.55">chr21:26161943:T:C_APP−DT</text>
<text transform="translate(201.60 1742.20) rotate(-45)" text-anchor="end" font-size="21.1" fill="#262626" stroke="#262626" stroke-width="0.55">Brainseq Brain</text>
<text transform="translate(247.10 1742.20) rotate(-45)" text-anchor="end" font-size="21.1" fill="#262626" stroke="#262626" stroke-width="0.55">ROSMAP brain</text>
<text transform="translate(292.60 1742.20) rotate(-45)" text-anchor="end" font-size="21.1" fill="#262626" stroke="#262626" stroke-width="0.55">Metabrain Cortex</text>
<text transform="translate(338.10 1742.20) rotate(-45)" text-anchor="end" font-size="21.1" fill="#262626" stroke="#262626" stroke-width="0.55">GTEx cortex</text>
<text transform="translate(383.60 1742.20) rotate(-45)" text-anchor="end" font-size="21.1" fill="#262626" stroke="#262626" stroke-width="0.55">CommonMind DLPFC</text>
<text transform="translate(429.10 1742.20) rotate(-45)" text-anchor="end" font-size="21.1" fill="#262626" stroke="#262626" stroke-width="0.55">GTEx frontal cortex</text>
<text transform="translate(474.60 1742.20) rotate(-45)" text-anchor="end" font-size="21.1" fill="#262626" stroke="#262626" stroke-width="0.55">GTEx anterior cingulate cortex</text>
<text transform="translate(520.10 1742.20) rotate(-45)" text-anchor="end" font-size="21.1" fill="#262626" stroke="#262626" stroke-width="0.55">GTEx hypothalamus</text>
<text transform="translate(565.60 1742.20) rotate(-45)" text-anchor="end" font-size="21.1" fill="#262626" stroke="#262626" stroke-width="0.55">GTEx hippocampus</text>
<text transform="translate(611.10 1742.20) rotate(-45)" text-anchor="end" font-size="21.1" fill="#262626" stroke="#262626" stroke-width="0.55">Metabrain Hippocampus</text>
<text transform="translate(656.60 1742.20) rotate(-45)" text-anchor="end" font-size="21.1" fill="#262626" stroke="#262626" stroke-width="0.55">GTEx Amydgala</text>
<text transform="translate(702.10 1742.20) rotate(-45)" text-anchor="end" font-size="21.1" fill="#262626" stroke="#262626" stroke-width="0.55">Metabrain Basal Ganglia</text>
<text transform="translate(747.60 1742.20) rotate(-45)" text-anchor="end" font-size="21.1" fill="#262626" stroke="#262626" stroke-width="0.55">Braineac2 Putamen</text>
<text transform="translate(793.10 1742.20) rotate(-45)" text-anchor="end" font-size="21.1" fill="#262626" stroke="#262626" stroke-width="0.55">GTEx putamen</text>
<text transform="translate(838.60 1742.20) rotate(-45)" text-anchor="end" font-size="21.1" fill="#262626" stroke="#262626" stroke-width="0.55">Braineac2 substantia nigra</text>
<text transform="translate(884.10 1742.20) rotate(-45)" text-anchor="end" font-size="21.1" fill="#262626" stroke="#262626" stroke-width="0.55">GTEx substantia nigra</text>
<text transform="translate(929.60 1742.20) rotate(-45)" text-anchor="end" font-size="21.1" fill="#262626" stroke="#262626" stroke-width="0.55">GTEx nucleus accumbens</text>
<text transform="translate(975.10 1742.20) rotate(-45)" text-anchor="end" font-size="21.1" fill="#262626" stroke="#262626" stroke-width="0.55">GTEx caudate</text>
<text transform="translate(1020.60 1742.20) rotate(-45)" text-anchor="end" font-size="21.1" fill="#262626" stroke="#262626" stroke-width="0.55">Metabrain Cerebellum</text>
<text transform="translate(1066.10 1742.20) rotate(-45)" text-anchor="end" font-size="21.1" fill="#262626" stroke="#262626" stroke-width="0.55">GTEx cerebellum</text>
<text transform="translate(1111.60 1742.20) rotate(-45)" text-anchor="end" font-size="21.1" fill="#262626" stroke="#262626" stroke-width="0.55">GTEx cerebellar hemisphere</text>
<text transform="translate(1157.10 1742.20) rotate(-45)" text-anchor="end" font-size="21.1" fill="#262626" stroke="#262626" stroke-width="0.55">GTEx spinal cord</text>
<text transform="translate(1202.60 1742.20) rotate(-45)" text-anchor="end" font-size="21.1" fill="#262626" stroke="#262626" stroke-width="0.55">Metabrain Spinal Cord</text>
<text transform="translate(1319.40 1653.00) rotate(-72)" text-anchor="end" font-size="21.1" fill="#262626" stroke="#262626" stroke-width="0.55">GTEx Average Z Score</text>
<text transform="translate(1437.60 1646.00) rotate(-73)" text-anchor="end" font-size="21.1" fill="#262626" stroke="#262626" stroke-width="0.55">3DGenome − TAD</text>
<text transform="translate(1521.90 1646.50) rotate(-73)" text-anchor="end" font-size="21.1" fill="#262626" stroke="#262626" stroke-width="0.55">4DGenome</text>
<text transform="translate(1611.80 1648.50) rotate(-73)" text-anchor="end" font-size="21.1" fill="#262626" stroke="#262626" stroke-width="0.55">Nott_etal</text>
<text x="691.5" y="1974" text-anchor="middle" font-size="25.5" fill="#111" stroke="#111" stroke-width="0.55">eQTLs</text>
<text x="296" y="2030" font-size="25.5" fill="#111" stroke="#111" stroke-width="0.55">Data Source</text>
<rect x="294.5" y="2045.9" width="41.6" height="80.6" fill="#000"/>
<rect x="301.70000000000005" y="2052.5" width="27.0" height="26.0" fill="#a5d6e4" stroke="#b8f0fb" stroke-width="1.2"/>
<rect x="301.70000000000005" y="2094.2" width="27.0" height="25.7" fill="#4285bc" stroke="#52a4ea" stroke-width="1.2"/>
<text x="349" y="2073.2" font-size="21.1" fill="#111" stroke="#111" stroke-width="0.55">eQTL catalogue</text>
<text x="349" y="2114" font-size="21.1" fill="#111" stroke="#111" stroke-width="0.55">Metabrain</text>
<text x="550.8" y="2030" font-size="25.5" fill="#111" stroke="#111" stroke-width="0.55">System</text>
<rect x="550.2" y="2045.9" width="41.3" height="160.8" fill="#000"/>
<rect x="558.1" y="2052.5" width="26.3" height="26.1" fill="#b95f66" stroke="#e27a82" stroke-width="1.2"/>
<text x="604.7" y="2073.2" font-size="21.1" fill="#111" stroke="#111" stroke-width="0.55">Frontal Cortex</text>
<rect x="558.1" y="2092.9" width="26.3" height="26.1" fill="#efce78" stroke="#fbe88c" stroke-width="1.2"/>
<text x="604.7" y="2113.3" font-size="21.1" fill="#111" stroke="#111" stroke-width="0.55">Limbic System</text>
<rect x="558.1" y="2134.2" width="26.3" height="26.1" fill="#7ffbe0" stroke="#9afff0" stroke-width="1.2"/>
<text x="604.7" y="2154.0" font-size="21.1" fill="#111" stroke="#111" stroke-width="0.55">Basal Ganglia</text>
<rect x="558.1" y="2174.3" width="26.3" height="26.1" fill="#8a7294" stroke="#b092bd" stroke-width="1.2"/>
<text x="604.7" y="2194.3" font-size="21.1" fill="#111" stroke="#111" stroke-width="0.55">Brain Stem</text>
<path d="M550.2 2125.9h41.3M550.2 2166.2h41.3" stroke="#fff" stroke-opacity="0.75" stroke-width="0.9"/>
<text x="1024.6" y="2020.2" text-anchor="middle" font-size="25.5" fill="#111" stroke="#111" stroke-width="0.55">Zscore</text>
<defs><linearGradient id="zg" x1="0" x2="1" y1="0" y2="0"><stop offset="0" stop-color="#44fa12"/><stop offset="0.10" stop-color="#4afa18"/><stop offset="0.2" stop-color="#8cfa72"/><stop offset="0.3" stop-color="#bdfab2"/><stop offset="0.4" stop-color="#e0fcdb"/><stop offset="0.5" stop-color="#ffffff"/><stop offset="0.6" stop-color="#fbe0d8"/><stop offset="0.7" stop-color="#f3b5a3"/><stop offset="0.8" stop-color="#f08e76"/><stop offset="0.9" stop-color="#f65c40"/><stop offset="1" stop-color="#ff2010"/></linearGradient></defs>
<rect x="928.6" y="2037.9" width="204.4" height="42.8" fill="url(#zg)"/>
<path d="M950.7 2080.7v-9.5" stroke="#fff" stroke-opacity="0.9" stroke-width="2.2"/>
<text x="950.7" y="2108.3" text-anchor="middle" font-size="21.1" fill="#111" stroke="#111" stroke-width="0.55">−20</text>
<path d="M990.4 2080.7v-9.5" stroke="#fff" stroke-opacity="0.9" stroke-width="2.2"/>
<text x="990.4" y="2108.3" text-anchor="middle" font-size="21.1" fill="#111" stroke="#111" stroke-width="0.55">−10</text>
<path d="M1031 2080.7v-9.5" stroke="#fff" stroke-opacity="0.9" stroke-width="2.2"/>
<text x="1031" y="2108.3" text-anchor="middle" font-size="21.1" fill="#111" stroke="#111" stroke-width="0.55">0</text>
<path d="M1072.4 2080.7v-9.5" stroke="#fff" stroke-opacity="0.9" stroke-width="2.2"/>
<text x="1072.4" y="2108.3" text-anchor="middle" font-size="21.1" fill="#111" stroke="#111" stroke-width="0.55">10</text>
<path d="M1112.1 2080.7v-9.5" stroke="#fff" stroke-opacity="0.9" stroke-width="2.2"/>
<text x="1112.1" y="2108.3" text-anchor="middle" font-size="21.1" fill="#111" stroke="#111" stroke-width="0.55">20</text>
<text x="1621.3" y="1853.3" text-anchor="middle" font-size="25.9" fill="#111" stroke="#111" stroke-width="0.55">Chromatin Interaction</text>
<rect x="1470.4" y="1870.8" width="40" height="40.2" fill="#ebebeb"/>
<circle cx="1490.1" cy="1891.2" r="13.8" fill="none" stroke="#000" stroke-width="2.0"/>
<text x="1523.4" y="1900" font-size="21.1" fill="#111" stroke="#111" stroke-width="0.55">No Overlap</text>
<rect x="1642.6" y="1870.8" width="41.6" height="40.2" fill="#ebebeb"/>
<rect x="1651.6" y="1880" width="23.4" height="23.4" fill="#ff2010" stroke="#000" stroke-width="1.9"/>
<text x="1696.5" y="1900" font-size="21.1" fill="#111" stroke="#111" stroke-width="0.55">Overlap</text>
</svg>
</body></html>
